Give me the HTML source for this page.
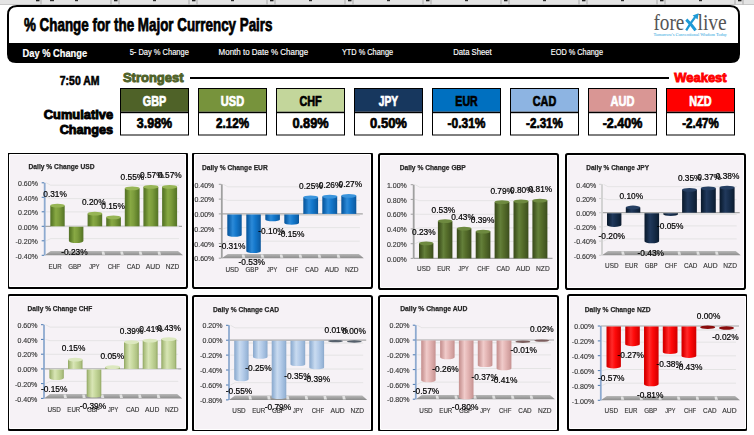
<!DOCTYPE html>
<html><head><meta charset="utf-8"><style>
html,body{margin:0;padding:0;background:#fff;width:754px;height:435px;overflow:hidden}
svg{display:block}
</style></head><body>
<svg width="754" height="435" viewBox="0 0 754 435">
<rect x="0" y="0" width="754" height="4" fill="#e4e4e4"/>
<rect x="0" y="4" width="754" height="1" fill="#c8c8c8"/>
<rect x="40.5" y="0" width="1" height="4.5" fill="#a8a8a8"/>
<rect x="110.5" y="0" width="1" height="4.5" fill="#a8a8a8"/>
<rect x="36" y="0" width="3.5" height="1.3" fill="#202020"/>
<rect x="75" y="0" width="3" height="1.2" fill="#303030"/>
<rect x="118.5" y="0" width="1" height="4.5" fill="#a8a8a8"/>
<rect x="188.5" y="0" width="1" height="4.5" fill="#a8a8a8"/>
<rect x="114" y="0" width="3.5" height="1.3" fill="#202020"/>
<rect x="153" y="0" width="3" height="1.2" fill="#303030"/>
<rect x="196.5" y="0" width="1" height="4.5" fill="#a8a8a8"/>
<rect x="266.5" y="0" width="1" height="4.5" fill="#a8a8a8"/>
<rect x="192" y="0" width="3.5" height="1.3" fill="#202020"/>
<rect x="231" y="0" width="3" height="1.2" fill="#303030"/>
<rect x="274.5" y="0" width="1" height="4.5" fill="#a8a8a8"/>
<rect x="344.5" y="0" width="1" height="4.5" fill="#a8a8a8"/>
<rect x="270" y="0" width="3.5" height="1.3" fill="#202020"/>
<rect x="309" y="0" width="3" height="1.2" fill="#303030"/>
<rect x="352.5" y="0" width="1" height="4.5" fill="#a8a8a8"/>
<rect x="422.5" y="0" width="1" height="4.5" fill="#a8a8a8"/>
<rect x="348" y="0" width="3.5" height="1.3" fill="#202020"/>
<rect x="387" y="0" width="3" height="1.2" fill="#303030"/>
<rect x="430.5" y="0" width="1" height="4.5" fill="#a8a8a8"/>
<rect x="500.5" y="0" width="1" height="4.5" fill="#a8a8a8"/>
<rect x="426" y="0" width="3.5" height="1.3" fill="#202020"/>
<rect x="465" y="0" width="3" height="1.2" fill="#303030"/>
<rect x="508.5" y="0" width="1" height="4.5" fill="#a8a8a8"/>
<rect x="578.5" y="0" width="1" height="4.5" fill="#a8a8a8"/>
<rect x="504" y="0" width="3.5" height="1.3" fill="#202020"/>
<rect x="543" y="0" width="3" height="1.2" fill="#303030"/>
<rect x="586.5" y="0" width="1" height="4.5" fill="#a8a8a8"/>
<rect x="656.5" y="0" width="1" height="4.5" fill="#a8a8a8"/>
<rect x="582" y="0" width="3.5" height="1.3" fill="#202020"/>
<rect x="621" y="0" width="3" height="1.2" fill="#303030"/>
<rect x="664.5" y="0" width="1" height="4.5" fill="#a8a8a8"/>
<rect x="734.5" y="0" width="1" height="4.5" fill="#a8a8a8"/>
<rect x="660" y="0" width="3.5" height="1.3" fill="#202020"/>
<rect x="699" y="0" width="3" height="1.2" fill="#303030"/>
<rect x="742.5" y="0" width="1" height="4.5" fill="#a8a8a8"/>
<rect x="812.5" y="0" width="1" height="4.5" fill="#a8a8a8"/>
<rect x="738" y="0" width="3.5" height="1.3" fill="#202020"/>
<rect x="777" y="0" width="3" height="1.2" fill="#303030"/>
<rect x="50" y="0" width="4" height="1.2" fill="#303030"/>
<path d="M8,44 L8,15 Q8,6 17,6 L730,6 Q739,6 739,15 L739,44 Z" fill="#fff" stroke="#000" stroke-width="2"/>
<path d="M7,43.5 L740,43.5 L740,54 Q740,63 731,63 L16,63 Q7,63 7,54 Z" fill="#000"/>
<text x="24" y="31.2" font-family='"Liberation Sans", sans-serif' font-size="18.4" font-weight="bold" fill="#000" text-anchor="start" textLength="248.5" lengthAdjust="spacingAndGlyphs" stroke="#000" stroke-width="0.75">% Change for the Major Currency Pairs</text>
<text x="22.6" y="56.7" font-family='"Liberation Sans", sans-serif' font-size="10.3" font-weight="bold" fill="#fff" text-anchor="start" textLength="64.5" lengthAdjust="spacingAndGlyphs" stroke="#fff" stroke-width="0.2">Day % Change</text>
<text x="129.7" y="54.8" font-family='"Liberation Sans", sans-serif' font-size="8.3" font-weight="normal" fill="#fff" text-anchor="start" textLength="59.2" lengthAdjust="spacingAndGlyphs" stroke="#fff" stroke-width="0.15">5- Day % Change</text>
<text x="218.6" y="54.8" font-family='"Liberation Sans", sans-serif' font-size="8.3" font-weight="normal" fill="#fff" text-anchor="start" textLength="89.6" lengthAdjust="spacingAndGlyphs" stroke="#fff" stroke-width="0.15">Month to Date % Change</text>
<text x="341.9" y="54.8" font-family='"Liberation Sans", sans-serif' font-size="8.3" font-weight="normal" fill="#fff" text-anchor="start" textLength="51.2" lengthAdjust="spacingAndGlyphs" stroke="#fff" stroke-width="0.15">YTD % Change</text>
<text x="453.2" y="54.8" font-family='"Liberation Sans", sans-serif' font-size="8.3" font-weight="normal" fill="#fff" text-anchor="start" textLength="38.4" lengthAdjust="spacingAndGlyphs" stroke="#fff" stroke-width="0.15">Data Sheet</text>
<text x="550.8" y="54.8" font-family='"Liberation Sans", sans-serif' font-size="8.3" font-weight="normal" fill="#fff" text-anchor="start" textLength="52.2" lengthAdjust="spacingAndGlyphs" stroke="#fff" stroke-width="0.15">EOD % Change</text>
<text x="653.4" y="30.4" font-family='"Liberation Serif", serif' font-size="23" font-weight="normal" fill="#555555" text-anchor="start" textLength="31" lengthAdjust="spacingAndGlyphs" >fore</text>
<text x="697.5" y="30.4" font-family='"Liberation Serif", serif' font-size="23" font-weight="normal" fill="#555555" text-anchor="start" textLength="29.3" lengthAdjust="spacingAndGlyphs" >live</text>
<path d="M686.3,19.6 Q691,24 695.6,30.4" stroke="#1e9ad6" stroke-width="3" fill="none"/>
<path d="M686.2,30.4 Q690.5,23 695.2,17" stroke="#1e9ad6" stroke-width="2.2" fill="none"/>
<path d="M692.6,15.6 L698.6,13.2 L697.6,19.4 Z" fill="#1e9ad6"/>
<text x="653.4" y="36.4" font-family='"Liberation Serif", serif' font-size="5" font-weight="normal" fill="#1f9fdc" text-anchor="start" textLength="73.4" lengthAdjust="spacingAndGlyphs" >Tomorrow's Conventional Wisdom Today</text>
<text x="59.8" y="84.6" font-family='"Liberation Sans", sans-serif' font-size="12.8" font-weight="bold" fill="#000" text-anchor="start" textLength="39.7" lengthAdjust="spacingAndGlyphs" stroke="#000" stroke-width="0.6">7:50 AM</text>
<text x="122.9" y="81.8" font-family='"Liberation Sans", sans-serif' font-size="13" font-weight="bold" fill="#4f6228" text-anchor="start" textLength="60.7" lengthAdjust="spacingAndGlyphs" stroke="#4f6228" stroke-width="0.9">Strongest</text>
<rect x="190" y="77" width="479" height="2" fill="#000"/>
<text x="674.3" y="82" font-family='"Liberation Sans", sans-serif' font-size="13" font-weight="bold" fill="#ff0000" text-anchor="start" textLength="52.3" lengthAdjust="spacingAndGlyphs" stroke="#ff0000" stroke-width="0.9">Weakest</text>
<text x="113.1" y="118.6" font-family='"Liberation Sans", sans-serif' font-size="12.4" font-weight="bold" fill="#000" text-anchor="end" textLength="69.3" lengthAdjust="spacingAndGlyphs" stroke="#000" stroke-width="0.9">Cumulative</text>
<text x="113.1" y="134.2" font-family='"Liberation Sans", sans-serif' font-size="12.4" font-weight="bold" fill="#000" text-anchor="end" textLength="53.4" lengthAdjust="spacingAndGlyphs" stroke="#000" stroke-width="0.9">Changes</text>
<rect x="120.5" y="88.5" width="68" height="46.5" fill="#fff" stroke="#000" stroke-width="1"/>
<rect x="121" y="89" width="67" height="22.7" fill="#4f6228"/>
<rect x="121" y="111.7" width="67" height="1.5" fill="#000"/>
<text x="154.5" y="105.8" font-family='"Liberation Sans", sans-serif' font-size="14.5" font-weight="bold" fill="#fff" text-anchor="middle" textLength="23.400000000000002" lengthAdjust="spacingAndGlyphs" stroke="#fff" stroke-width="0.7">GBP</text>
<text x="154.5" y="128.4" font-family='"Liberation Sans", sans-serif' font-size="14" font-weight="bold" fill="#000" text-anchor="middle" textLength="35.3" lengthAdjust="spacingAndGlyphs" stroke="#000" stroke-width="0.7">3.98%</text>
<rect x="198.5" y="88.5" width="68" height="46.5" fill="#fff" stroke="#000" stroke-width="1"/>
<rect x="199" y="89" width="67" height="22.7" fill="#77933c"/>
<rect x="199" y="111.7" width="67" height="1.5" fill="#000"/>
<text x="232.5" y="105.8" font-family='"Liberation Sans", sans-serif' font-size="14.5" font-weight="bold" fill="#fff" text-anchor="middle" textLength="23.3" lengthAdjust="spacingAndGlyphs" stroke="#fff" stroke-width="0.7">USD</text>
<text x="232.5" y="128.4" font-family='"Liberation Sans", sans-serif' font-size="14" font-weight="bold" fill="#000" text-anchor="middle" textLength="32.9" lengthAdjust="spacingAndGlyphs" stroke="#000" stroke-width="0.7">2.12%</text>
<rect x="276.5" y="88.5" width="68" height="46.5" fill="#fff" stroke="#000" stroke-width="1"/>
<rect x="277" y="89" width="67" height="22.7" fill="#c3d69b"/>
<rect x="277" y="111.7" width="67" height="1.5" fill="#000"/>
<text x="310.5" y="105.8" font-family='"Liberation Sans", sans-serif' font-size="14.5" font-weight="bold" fill="#000" text-anchor="middle" textLength="22.2" lengthAdjust="spacingAndGlyphs" stroke="#000" stroke-width="0.7">CHF</text>
<text x="310.5" y="128.4" font-family='"Liberation Sans", sans-serif' font-size="14" font-weight="bold" fill="#000" text-anchor="middle" textLength="36.199999999999996" lengthAdjust="spacingAndGlyphs" stroke="#000" stroke-width="0.7">0.89%</text>
<rect x="354.5" y="88.5" width="68" height="46.5" fill="#fff" stroke="#000" stroke-width="1"/>
<rect x="355" y="89" width="67" height="22.7" fill="#17375e"/>
<rect x="355" y="111.7" width="67" height="1.5" fill="#000"/>
<text x="388.5" y="105.8" font-family='"Liberation Sans", sans-serif' font-size="14.5" font-weight="bold" fill="#fff" text-anchor="middle" textLength="19.3" lengthAdjust="spacingAndGlyphs" stroke="#fff" stroke-width="0.7">JPY</text>
<text x="388.5" y="128.4" font-family='"Liberation Sans", sans-serif' font-size="14" font-weight="bold" fill="#000" text-anchor="middle" textLength="36.9" lengthAdjust="spacingAndGlyphs" stroke="#000" stroke-width="0.7">0.50%</text>
<rect x="432.5" y="88.5" width="68" height="46.5" fill="#fff" stroke="#000" stroke-width="1"/>
<rect x="433" y="89" width="67" height="22.7" fill="#0070c0"/>
<rect x="433" y="111.7" width="67" height="1.5" fill="#000"/>
<text x="466.5" y="105.8" font-family='"Liberation Sans", sans-serif' font-size="14.5" font-weight="bold" fill="#000" text-anchor="middle" textLength="22.3" lengthAdjust="spacingAndGlyphs" stroke="#000" stroke-width="0.7">EUR</text>
<text x="466.5" y="128.4" font-family='"Liberation Sans", sans-serif' font-size="14" font-weight="bold" fill="#000" text-anchor="middle" textLength="38.0" lengthAdjust="spacingAndGlyphs" stroke="#000" stroke-width="0.7">-0.31%</text>
<rect x="510.5" y="88.5" width="68" height="46.5" fill="#fff" stroke="#000" stroke-width="1"/>
<rect x="511" y="89" width="67" height="22.7" fill="#8db4e2"/>
<rect x="511" y="111.7" width="67" height="1.5" fill="#000"/>
<text x="544.5" y="105.8" font-family='"Liberation Sans", sans-serif' font-size="14.5" font-weight="bold" fill="#000" text-anchor="middle" textLength="23.400000000000002" lengthAdjust="spacingAndGlyphs" stroke="#000" stroke-width="0.7">CAD</text>
<text x="544.5" y="128.4" font-family='"Liberation Sans", sans-serif' font-size="14" font-weight="bold" fill="#000" text-anchor="middle" textLength="36.9" lengthAdjust="spacingAndGlyphs" stroke="#000" stroke-width="0.7">-2.31%</text>
<rect x="588.5" y="88.5" width="68" height="46.5" fill="#fff" stroke="#000" stroke-width="1"/>
<rect x="589" y="89" width="67" height="22.7" fill="#d99694"/>
<rect x="589" y="111.7" width="67" height="1.5" fill="#000"/>
<text x="622.5" y="105.8" font-family='"Liberation Sans", sans-serif' font-size="14.5" font-weight="bold" fill="#fff" text-anchor="middle" textLength="23.900000000000002" lengthAdjust="spacingAndGlyphs" stroke="#fff" stroke-width="0.7">AUD</text>
<text x="622.5" y="128.4" font-family='"Liberation Sans", sans-serif' font-size="14" font-weight="bold" fill="#000" text-anchor="middle" textLength="39.599999999999994" lengthAdjust="spacingAndGlyphs" stroke="#000" stroke-width="0.7">-2.40%</text>
<rect x="666.5" y="88.5" width="68" height="46.5" fill="#fff" stroke="#000" stroke-width="1"/>
<rect x="667" y="89" width="67" height="22.7" fill="#ff0000"/>
<rect x="667" y="111.7" width="67" height="1.5" fill="#000"/>
<text x="700.5" y="105.8" font-family='"Liberation Sans", sans-serif' font-size="14.5" font-weight="bold" fill="#fff" text-anchor="middle" textLength="22.3" lengthAdjust="spacingAndGlyphs" stroke="#fff" stroke-width="0.7">NZD</text>
<text x="700.5" y="128.4" font-family='"Liberation Sans", sans-serif' font-size="14" font-weight="bold" fill="#000" text-anchor="middle" textLength="36.599999999999994" lengthAdjust="spacingAndGlyphs" stroke="#000" stroke-width="0.7">-2.47%</text>
<defs><linearGradient id="g_green" x1="0" y1="0" x2="1" y2="0"><stop offset="0" stop-color="#56722a"/><stop offset="0.12" stop-color="#5f7f2a"/><stop offset="0.38" stop-color="#88a944"/><stop offset="0.6" stop-color="#7c9c3c"/><stop offset="0.88" stop-color="#5f7f2a"/><stop offset="1" stop-color="#56722a"/></linearGradient><linearGradient id="g_blue" x1="0" y1="0" x2="1" y2="0"><stop offset="0" stop-color="#0b5598"/><stop offset="0.12" stop-color="#0d62ad"/><stop offset="0.38" stop-color="#2c8ad8"/><stop offset="0.6" stop-color="#1478cc"/><stop offset="0.88" stop-color="#0d62ad"/><stop offset="1" stop-color="#0b5598"/></linearGradient><linearGradient id="g_dkgreen" x1="0" y1="0" x2="1" y2="0"><stop offset="0" stop-color="#3a4b1b"/><stop offset="0.12" stop-color="#445822"/><stop offset="0.38" stop-color="#64803a"/><stop offset="0.6" stop-color="#566e2b"/><stop offset="0.88" stop-color="#445822"/><stop offset="1" stop-color="#3a4b1b"/></linearGradient><linearGradient id="g_navy" x1="0" y1="0" x2="1" y2="0"><stop offset="0" stop-color="#0b192c"/><stop offset="0.12" stop-color="#0f2239"/><stop offset="0.38" stop-color="#21395c"/><stop offset="0.6" stop-color="#182f4e"/><stop offset="0.88" stop-color="#0f2239"/><stop offset="1" stop-color="#0b192c"/></linearGradient><linearGradient id="g_ltgreen" x1="0" y1="0" x2="1" y2="0"><stop offset="0" stop-color="#8fa560"/><stop offset="0.12" stop-color="#aec182"/><stop offset="0.38" stop-color="#d8e5b5"/><stop offset="0.6" stop-color="#c6d89c"/><stop offset="0.88" stop-color="#aec182"/><stop offset="1" stop-color="#8fa560"/></linearGradient><linearGradient id="g_ltblue" x1="0" y1="0" x2="1" y2="0"><stop offset="0" stop-color="#8ba8ca"/><stop offset="0.12" stop-color="#9ab7d9"/><stop offset="0.38" stop-color="#c9dbf0"/><stop offset="0.6" stop-color="#b6cdea"/><stop offset="0.88" stop-color="#9ab7d9"/><stop offset="1" stop-color="#8ba8ca"/></linearGradient><linearGradient id="g_pink" x1="0" y1="0" x2="1" y2="0"><stop offset="0" stop-color="#c48f8e"/><stop offset="0.12" stop-color="#d09e9d"/><stop offset="0.38" stop-color="#f0cbca"/><stop offset="0.6" stop-color="#e5b7b6"/><stop offset="0.88" stop-color="#d09e9d"/><stop offset="1" stop-color="#c48f8e"/></linearGradient><linearGradient id="g_red" x1="0" y1="0" x2="1" y2="0"><stop offset="0" stop-color="#d00000"/><stop offset="0.12" stop-color="#e00000"/><stop offset="0.38" stop-color="#ff2a2a"/><stop offset="0.6" stop-color="#ff0a0a"/><stop offset="0.88" stop-color="#e00000"/><stop offset="1" stop-color="#d00000"/></linearGradient><linearGradient id="g_floor" x1="0" y1="0" x2="0" y2="1"><stop offset="0" stop-color="#b8b8b8"/><stop offset="1" stop-color="#8c8c8c"/></linearGradient><filter id="noop" x="0" y="0" width="1" height="1"><feOffset dx="0" dy="0"/></filter></defs>
<g filter="url(#noop)">
<rect x="8" y="153" width="179" height="135" rx="1.8" fill="#f6f2f6"/>
<rect x="9.5" y="154.5" width="176" height="132" fill="none" stroke="#ffffff" stroke-width="1"/>
<clipPath id="clip0"><rect x="9" y="154" width="177" height="133"/></clipPath>
<g clip-path="url(#clip0)">
<text x="28.50" y="169.20" font-family='"Liberation Sans", sans-serif' font-size="7.6" font-weight="bold" fill="#262626" text-anchor="start" textLength="66.0" lengthAdjust="spacingAndGlyphs" stroke="#262626" stroke-width="0.25">Daily % Change USD</text>
<path d="M46.2,182.8 L50.7,185.2 L179.0,185.2" fill="none" stroke="#e0e0e0" stroke-width="0.8"/>
<path d="M46.2,197.3 L50.7,198.6 L179.0,198.6" fill="none" stroke="#e0e0e0" stroke-width="0.8"/>
<path d="M46.2,211.8 L50.7,211.9 L179.0,211.9" fill="none" stroke="#e0e0e0" stroke-width="0.8"/>
<path d="M46.2,240.8 L50.7,238.6 L179.0,238.6" fill="none" stroke="#e0e0e0" stroke-width="0.8"/>
<path d="M44.7,255.3 L183.0,255.3 L178.0,251.1 L50.7,251.1 Z" fill="url(#g_floor)"/>
<path d="M64.9,254.8 L67.9,254.8 L66.9,251.6 L64.4,251.6 Z" fill="#e8e8e8" opacity="0.9"/>
<path d="M83.6,254.8 L86.6,254.8 L85.6,251.6 L83.1,251.6 Z" fill="#e8e8e8" opacity="0.9"/>
<path d="M102.2,254.8 L105.2,254.8 L104.2,251.6 L101.7,251.6 Z" fill="#e8e8e8" opacity="0.9"/>
<path d="M120.8,254.8 L123.8,254.8 L122.8,251.6 L120.3,251.6 Z" fill="#e8e8e8" opacity="0.9"/>
<path d="M139.4,254.8 L142.4,254.8 L141.4,251.6 L138.9,251.6 Z" fill="#e8e8e8" opacity="0.9"/>
<path d="M158.1,254.8 L161.1,254.8 L160.1,251.6 L157.6,251.6 Z" fill="#e8e8e8" opacity="0.9"/>
<path d="M44.7,226.3 L182.0,226.3" stroke="#a6a6a6" stroke-width="1.2"/>
<path d="M50.7,226.7 L179.0,226.7" stroke="#e0e0e0" stroke-width="1"/>
<path d="M44.7,182.8 L44.7,255.3" stroke="#8eaad0" stroke-width="1.8"/>
<path d="M41.7,182.8 L44.2,182.8" stroke="#4a78b0" stroke-width="1"/>
<text x="37.90" y="186.00" font-family='"Liberation Sans", sans-serif' font-size="7.3" font-weight="normal" fill="#383838" text-anchor="end" textLength="19.9" lengthAdjust="spacingAndGlyphs" stroke="#383838" stroke-width="0.15">0.60%</text>
<path d="M41.7,197.3 L44.2,197.3" stroke="#4a78b0" stroke-width="1"/>
<text x="37.90" y="200.50" font-family='"Liberation Sans", sans-serif' font-size="7.3" font-weight="normal" fill="#383838" text-anchor="end" textLength="19.9" lengthAdjust="spacingAndGlyphs" stroke="#383838" stroke-width="0.15">0.40%</text>
<path d="M41.7,211.8 L44.2,211.8" stroke="#4a78b0" stroke-width="1"/>
<text x="37.90" y="215.00" font-family='"Liberation Sans", sans-serif' font-size="7.3" font-weight="normal" fill="#383838" text-anchor="end" textLength="19.9" lengthAdjust="spacingAndGlyphs" stroke="#383838" stroke-width="0.15">0.20%</text>
<path d="M41.7,226.3 L44.2,226.3" stroke="#4a78b0" stroke-width="1"/>
<text x="37.90" y="229.50" font-family='"Liberation Sans", sans-serif' font-size="7.3" font-weight="normal" fill="#383838" text-anchor="end" textLength="19.9" lengthAdjust="spacingAndGlyphs" stroke="#383838" stroke-width="0.15">0.00%</text>
<path d="M41.7,240.8 L44.2,240.8" stroke="#4a78b0" stroke-width="1"/>
<text x="37.90" y="244.00" font-family='"Liberation Sans", sans-serif' font-size="7.3" font-weight="normal" fill="#383838" text-anchor="end" textLength="22.4" lengthAdjust="spacingAndGlyphs" stroke="#383838" stroke-width="0.15">-0.20%</text>
<path d="M41.7,255.3 L44.2,255.3" stroke="#4a78b0" stroke-width="1"/>
<text x="37.90" y="258.50" font-family='"Liberation Sans", sans-serif' font-size="7.3" font-weight="normal" fill="#383838" text-anchor="end" textLength="22.4" lengthAdjust="spacingAndGlyphs" stroke="#383838" stroke-width="0.15">-0.40%</text>
<path d="M50.3,205.7 L50.3,226.3 L64.7,226.3 L64.7,205.7 Z" fill="url(#g_green)"/>
<ellipse cx="57.5" cy="205.7" rx="7.2" ry="1.9" fill="#97b555"/>
<text x="55.10" y="268.80" font-family='"Liberation Sans", sans-serif' font-size="7.3" font-weight="normal" fill="#383838" text-anchor="middle" textLength="13.0" lengthAdjust="spacingAndGlyphs" stroke="#383838" stroke-width="0.15">EUR</text>
<path d="M68.9,226.8 L68.9,241.1 A7.2,1.9 0 0 0 83.4,241.1 L83.4,226.8 Z" fill="url(#g_green)"/>
<text x="74.68" y="268.80" font-family='"Liberation Sans", sans-serif' font-size="7.3" font-weight="normal" fill="#383838" text-anchor="middle" textLength="13.0" lengthAdjust="spacingAndGlyphs" stroke="#383838" stroke-width="0.15">GBP</text>
<path d="M87.6,213.7 L87.6,226.3 L102.2,226.3 L102.2,213.7 Z" fill="url(#g_green)"/>
<ellipse cx="94.9" cy="213.7" rx="7.3" ry="1.9" fill="#97b555"/>
<text x="94.26" y="268.80" font-family='"Liberation Sans", sans-serif' font-size="7.3" font-weight="normal" fill="#383838" text-anchor="middle" textLength="10.2" lengthAdjust="spacingAndGlyphs" stroke="#383838" stroke-width="0.15">JPY</text>
<path d="M106.2,217.3 L106.2,226.3 L120.9,226.3 L120.9,217.3 Z" fill="url(#g_green)"/>
<ellipse cx="113.5" cy="217.3" rx="7.4" ry="1.9" fill="#97b555"/>
<text x="113.84" y="268.80" font-family='"Liberation Sans", sans-serif' font-size="7.3" font-weight="normal" fill="#383838" text-anchor="middle" textLength="12.4" lengthAdjust="spacingAndGlyphs" stroke="#383838" stroke-width="0.15">CHF</text>
<path d="M124.8,188.3 L124.8,226.3 L139.6,226.3 L139.6,188.3 Z" fill="url(#g_green)"/>
<ellipse cx="132.2" cy="188.3" rx="7.4" ry="1.9" fill="#97b555"/>
<text x="133.42" y="268.80" font-family='"Liberation Sans", sans-serif' font-size="7.3" font-weight="normal" fill="#383838" text-anchor="middle" textLength="13.4" lengthAdjust="spacingAndGlyphs" stroke="#383838" stroke-width="0.15">CAD</text>
<path d="M143.4,186.9 L143.4,226.3 L158.3,226.3 L158.3,186.9 Z" fill="url(#g_green)"/>
<ellipse cx="150.9" cy="186.9" rx="7.5" ry="1.9" fill="#97b555"/>
<text x="153.00" y="268.80" font-family='"Liberation Sans", sans-serif' font-size="7.3" font-weight="normal" fill="#383838" text-anchor="middle" textLength="14.3" lengthAdjust="spacingAndGlyphs" stroke="#383838" stroke-width="0.15">AUD</text>
<path d="M162.1,186.9 L162.1,226.3 L177.1,226.3 L177.1,186.9 Z" fill="url(#g_green)"/>
<ellipse cx="169.6" cy="186.9" rx="7.5" ry="1.9" fill="#97b555"/>
<text x="172.58" y="268.80" font-family='"Liberation Sans", sans-serif' font-size="7.3" font-weight="normal" fill="#383838" text-anchor="middle" textLength="13.6" lengthAdjust="spacingAndGlyphs" stroke="#383838" stroke-width="0.15">NZD</text>
<text x="55.10" y="197.23" font-family='"Liberation Sans", sans-serif' font-size="9.4" font-weight="normal" fill="#000" text-anchor="middle" textLength="23.6" lengthAdjust="spacingAndGlyphs" stroke="#000" stroke-width="0.22">0.31%</text>
<text x="74.43" y="255.28" font-family='"Liberation Sans", sans-serif' font-size="9.4" font-weight="normal" fill="#000" text-anchor="middle" textLength="26.5" lengthAdjust="spacingAndGlyphs" stroke="#000" stroke-width="0.22">-0.23%</text>
<text x="93.76" y="205.20" font-family='"Liberation Sans", sans-serif' font-size="9.4" font-weight="normal" fill="#000" text-anchor="middle" textLength="23.6" lengthAdjust="spacingAndGlyphs" stroke="#000" stroke-width="0.22">0.20%</text>
<text x="113.09" y="208.83" font-family='"Liberation Sans", sans-serif' font-size="9.4" font-weight="normal" fill="#000" text-anchor="middle" textLength="23.6" lengthAdjust="spacingAndGlyphs" stroke="#000" stroke-width="0.22">0.15%</text>
<text x="132.42" y="179.83" font-family='"Liberation Sans", sans-serif' font-size="9.4" font-weight="normal" fill="#000" text-anchor="middle" textLength="23.6" lengthAdjust="spacingAndGlyphs" stroke="#000" stroke-width="0.22">0.55%</text>
<text x="151.75" y="178.38" font-family='"Liberation Sans", sans-serif' font-size="9.4" font-weight="normal" fill="#000" text-anchor="middle" textLength="23.6" lengthAdjust="spacingAndGlyphs" stroke="#000" stroke-width="0.22">0.57%</text>
<text x="169.88" y="178.38" font-family='"Liberation Sans", sans-serif' font-size="9.4" font-weight="normal" fill="#000" text-anchor="middle" textLength="23.6" lengthAdjust="spacingAndGlyphs" stroke="#000" stroke-width="0.22">0.57%</text>
</g>
<rect x="8" y="153" width="179" height="135" rx="1.8" fill="none" stroke="#000" stroke-width="2"/>
<rect x="193" y="153" width="179" height="135" rx="1.8" fill="#f6f2f6"/>
<rect x="194.5" y="154.5" width="176" height="132" fill="none" stroke="#ffffff" stroke-width="1"/>
<clipPath id="clip1"><rect x="194" y="154" width="177" height="133"/></clipPath>
<g clip-path="url(#clip1)">
<text x="202.00" y="170.00" font-family='"Liberation Sans", sans-serif' font-size="7.6" font-weight="bold" fill="#262626" text-anchor="start" textLength="65.7" lengthAdjust="spacingAndGlyphs" stroke="#262626" stroke-width="0.25">Daily % Change EUR</text>
<path d="M223.3,184.3 L227.8,186.8 L359.8,186.8" fill="none" stroke="#e0e0e0" stroke-width="0.8"/>
<path d="M223.3,199.1 L227.8,200.4 L359.8,200.4" fill="none" stroke="#e0e0e0" stroke-width="0.8"/>
<path d="M223.3,228.7 L227.8,227.6 L359.8,227.6" fill="none" stroke="#e0e0e0" stroke-width="0.8"/>
<path d="M223.3,243.5 L227.8,241.2 L359.8,241.2" fill="none" stroke="#e0e0e0" stroke-width="0.8"/>
<path d="M221.8,258.2 L363.8,258.2 L358.8,253.9 L227.8,253.9 Z" fill="url(#g_floor)"/>
<path d="M242.3,257.7 L245.3,257.7 L244.3,254.4 L241.8,254.4 Z" fill="#e8e8e8" opacity="0.9"/>
<path d="M261.3,257.7 L264.3,257.7 L263.3,254.4 L260.8,254.4 Z" fill="#e8e8e8" opacity="0.9"/>
<path d="M280.3,257.7 L283.3,257.7 L282.3,254.4 L279.8,254.4 Z" fill="#e8e8e8" opacity="0.9"/>
<path d="M299.3,257.7 L302.3,257.7 L301.3,254.4 L298.8,254.4 Z" fill="#e8e8e8" opacity="0.9"/>
<path d="M318.3,257.7 L321.3,257.7 L320.3,254.4 L317.8,254.4 Z" fill="#e8e8e8" opacity="0.9"/>
<path d="M337.3,257.7 L340.3,257.7 L339.3,254.4 L336.8,254.4 Z" fill="#e8e8e8" opacity="0.9"/>
<path d="M221.8,213.9 L362.8,213.9" stroke="#a6a6a6" stroke-width="1.2"/>
<path d="M227.8,215.5 L359.8,215.5" stroke="#e0e0e0" stroke-width="1"/>
<path d="M221.8,184.3 L221.8,258.2" stroke="#a0a0a0" stroke-width="1.8"/>
<path d="M218.8,184.3 L221.3,184.3" stroke="#a0a0a0" stroke-width="1"/>
<text x="214.30" y="187.54" font-family='"Liberation Sans", sans-serif' font-size="7.3" font-weight="normal" fill="#383838" text-anchor="end" textLength="19.9" lengthAdjust="spacingAndGlyphs" stroke="#383838" stroke-width="0.15">0.40%</text>
<path d="M218.8,199.1 L221.3,199.1" stroke="#a0a0a0" stroke-width="1"/>
<text x="214.30" y="202.32" font-family='"Liberation Sans", sans-serif' font-size="7.3" font-weight="normal" fill="#383838" text-anchor="end" textLength="19.9" lengthAdjust="spacingAndGlyphs" stroke="#383838" stroke-width="0.15">0.20%</text>
<path d="M218.8,213.9 L221.3,213.9" stroke="#a0a0a0" stroke-width="1"/>
<text x="214.30" y="217.10" font-family='"Liberation Sans", sans-serif' font-size="7.3" font-weight="normal" fill="#383838" text-anchor="end" textLength="19.9" lengthAdjust="spacingAndGlyphs" stroke="#383838" stroke-width="0.15">0.00%</text>
<path d="M218.8,228.7 L221.3,228.7" stroke="#a0a0a0" stroke-width="1"/>
<text x="214.30" y="231.88" font-family='"Liberation Sans", sans-serif' font-size="7.3" font-weight="normal" fill="#383838" text-anchor="end" textLength="22.4" lengthAdjust="spacingAndGlyphs" stroke="#383838" stroke-width="0.15">-0.20%</text>
<path d="M218.8,243.5 L221.3,243.5" stroke="#a0a0a0" stroke-width="1"/>
<text x="214.30" y="246.66" font-family='"Liberation Sans", sans-serif' font-size="7.3" font-weight="normal" fill="#383838" text-anchor="end" textLength="22.4" lengthAdjust="spacingAndGlyphs" stroke="#383838" stroke-width="0.15">-0.40%</text>
<path d="M218.8,258.2 L221.3,258.2" stroke="#a0a0a0" stroke-width="1"/>
<text x="214.30" y="261.44" font-family='"Liberation Sans", sans-serif' font-size="7.3" font-weight="normal" fill="#383838" text-anchor="end" textLength="22.4" lengthAdjust="spacingAndGlyphs" stroke="#383838" stroke-width="0.15">-0.60%</text>
<path d="M227.3,214.4 L227.3,234.9 A7.2,1.9 0 0 0 241.7,234.9 L241.7,214.4 Z" fill="url(#g_blue)"/>
<text x="232.10" y="271.50" font-family='"Liberation Sans", sans-serif' font-size="7.3" font-weight="normal" fill="#383838" text-anchor="middle" textLength="13.4" lengthAdjust="spacingAndGlyphs" stroke="#383838" stroke-width="0.15">USD</text>
<path d="M246.3,214.4 L246.3,251.2 A7.2,1.9 0 0 0 260.8,251.2 L260.8,214.4 Z" fill="url(#g_blue)"/>
<text x="252.05" y="271.50" font-family='"Liberation Sans", sans-serif' font-size="7.3" font-weight="normal" fill="#383838" text-anchor="middle" textLength="13.0" lengthAdjust="spacingAndGlyphs" stroke="#383838" stroke-width="0.15">GBP</text>
<path d="M265.3,214.4 L265.3,219.4 A7.3,1.9 0 0 0 279.9,219.4 L279.9,214.4 Z" fill="url(#g_blue)"/>
<text x="272.00" y="271.50" font-family='"Liberation Sans", sans-serif' font-size="7.3" font-weight="normal" fill="#383838" text-anchor="middle" textLength="10.2" lengthAdjust="spacingAndGlyphs" stroke="#383838" stroke-width="0.15">JPY</text>
<path d="M284.3,214.4 L284.3,223.1 A7.4,1.9 0 0 0 299.0,223.1 L299.0,214.4 Z" fill="url(#g_blue)"/>
<text x="291.95" y="271.50" font-family='"Liberation Sans", sans-serif' font-size="7.3" font-weight="normal" fill="#383838" text-anchor="middle" textLength="12.4" lengthAdjust="spacingAndGlyphs" stroke="#383838" stroke-width="0.15">CHF</text>
<path d="M303.3,197.3 L303.3,213.9 L318.1,213.9 L318.1,197.3 Z" fill="url(#g_blue)"/>
<ellipse cx="310.7" cy="197.3" rx="7.4" ry="1.9" fill="#3a94dc"/>
<text x="311.90" y="271.50" font-family='"Liberation Sans", sans-serif' font-size="7.3" font-weight="normal" fill="#383838" text-anchor="middle" textLength="13.4" lengthAdjust="spacingAndGlyphs" stroke="#383838" stroke-width="0.15">CAD</text>
<path d="M322.3,196.6 L322.3,213.9 L337.2,213.9 L337.2,196.6 Z" fill="url(#g_blue)"/>
<ellipse cx="329.8" cy="196.6" rx="7.5" ry="1.9" fill="#3a94dc"/>
<text x="331.85" y="271.50" font-family='"Liberation Sans", sans-serif' font-size="7.3" font-weight="normal" fill="#383838" text-anchor="middle" textLength="14.3" lengthAdjust="spacingAndGlyphs" stroke="#383838" stroke-width="0.15">AUD</text>
<path d="M341.3,195.8 L341.3,213.9 L356.3,213.9 L356.3,195.8 Z" fill="url(#g_blue)"/>
<ellipse cx="348.8" cy="195.8" rx="7.5" ry="1.9" fill="#3a94dc"/>
<text x="351.80" y="271.50" font-family='"Liberation Sans", sans-serif' font-size="7.3" font-weight="normal" fill="#383838" text-anchor="middle" textLength="13.6" lengthAdjust="spacingAndGlyphs" stroke="#383838" stroke-width="0.15">NZD</text>
<text x="232.10" y="249.11" font-family='"Liberation Sans", sans-serif' font-size="9.4" font-weight="normal" fill="#000" text-anchor="middle" textLength="26.5" lengthAdjust="spacingAndGlyphs" stroke="#000" stroke-width="0.22">-0.31%</text>
<text x="251.80" y="265.37" font-family='"Liberation Sans", sans-serif' font-size="9.4" font-weight="normal" fill="#000" text-anchor="middle" textLength="26.5" lengthAdjust="spacingAndGlyphs" stroke="#000" stroke-width="0.22">-0.53%</text>
<text x="271.50" y="233.59" font-family='"Liberation Sans", sans-serif' font-size="9.4" font-weight="normal" fill="#000" text-anchor="middle" textLength="26.5" lengthAdjust="spacingAndGlyphs" stroke="#000" stroke-width="0.22">-0.10%</text>
<text x="291.20" y="237.29" font-family='"Liberation Sans", sans-serif' font-size="9.4" font-weight="normal" fill="#000" text-anchor="middle" textLength="26.5" lengthAdjust="spacingAndGlyphs" stroke="#000" stroke-width="0.22">-0.15%</text>
<text x="310.90" y="188.83" font-family='"Liberation Sans", sans-serif' font-size="9.4" font-weight="normal" fill="#000" text-anchor="middle" textLength="23.6" lengthAdjust="spacingAndGlyphs" stroke="#000" stroke-width="0.22">0.25%</text>
<text x="330.60" y="188.09" font-family='"Liberation Sans", sans-serif' font-size="9.4" font-weight="normal" fill="#000" text-anchor="middle" textLength="23.6" lengthAdjust="spacingAndGlyphs" stroke="#000" stroke-width="0.22">0.26%</text>
<text x="350.30" y="187.35" font-family='"Liberation Sans", sans-serif' font-size="9.4" font-weight="normal" fill="#000" text-anchor="middle" textLength="23.6" lengthAdjust="spacingAndGlyphs" stroke="#000" stroke-width="0.22">0.27%</text>
</g>
<rect x="193" y="153" width="179" height="135" rx="1.8" fill="none" stroke="#000" stroke-width="2"/>
<rect x="379" y="154" width="179" height="135" rx="1.8" fill="#f6f2f6"/>
<rect x="380.5" y="155.5" width="176" height="132" fill="none" stroke="#ffffff" stroke-width="1"/>
<clipPath id="clip2"><rect x="380" y="155" width="177" height="133"/></clipPath>
<g clip-path="url(#clip2)">
<text x="399.70" y="170.00" font-family='"Liberation Sans", sans-serif' font-size="7.6" font-weight="bold" fill="#262626" text-anchor="start" textLength="66.1" lengthAdjust="spacingAndGlyphs" stroke="#262626" stroke-width="0.25">Daily % Change GBP</text>
<path d="M415.2,184.7 L419.7,187.2 L549.5,187.2" fill="none" stroke="#e0e0e0" stroke-width="0.8"/>
<path d="M415.2,199.4 L419.7,200.7 L549.5,200.7" fill="none" stroke="#e0e0e0" stroke-width="0.8"/>
<path d="M415.2,214.2 L419.7,214.3 L549.5,214.3" fill="none" stroke="#e0e0e0" stroke-width="0.8"/>
<path d="M415.2,228.9 L419.7,227.9 L549.5,227.9" fill="none" stroke="#e0e0e0" stroke-width="0.8"/>
<path d="M415.2,243.7 L419.7,241.4 L549.5,241.4" fill="none" stroke="#e0e0e0" stroke-width="0.8"/>
<path d="M413.7,258.4 L552.5,258.4" stroke="#a6a6a6" stroke-width="1.2"/>
<path d="M413.7,184.7 L413.7,258.4" stroke="#a0a0a0" stroke-width="1.8"/>
<path d="M410.7,184.7 L413.2,184.7" stroke="#a0a0a0" stroke-width="1"/>
<text x="406.80" y="187.90" font-family='"Liberation Sans", sans-serif' font-size="7.3" font-weight="normal" fill="#383838" text-anchor="end" textLength="19.9" lengthAdjust="spacingAndGlyphs" stroke="#383838" stroke-width="0.15">1.00%</text>
<path d="M410.7,199.4 L413.2,199.4" stroke="#a0a0a0" stroke-width="1"/>
<text x="406.80" y="202.64" font-family='"Liberation Sans", sans-serif' font-size="7.3" font-weight="normal" fill="#383838" text-anchor="end" textLength="19.9" lengthAdjust="spacingAndGlyphs" stroke="#383838" stroke-width="0.15">0.80%</text>
<path d="M410.7,214.2 L413.2,214.2" stroke="#a0a0a0" stroke-width="1"/>
<text x="406.80" y="217.38" font-family='"Liberation Sans", sans-serif' font-size="7.3" font-weight="normal" fill="#383838" text-anchor="end" textLength="19.9" lengthAdjust="spacingAndGlyphs" stroke="#383838" stroke-width="0.15">0.60%</text>
<path d="M410.7,228.9 L413.2,228.9" stroke="#a0a0a0" stroke-width="1"/>
<text x="406.80" y="232.12" font-family='"Liberation Sans", sans-serif' font-size="7.3" font-weight="normal" fill="#383838" text-anchor="end" textLength="19.9" lengthAdjust="spacingAndGlyphs" stroke="#383838" stroke-width="0.15">0.40%</text>
<path d="M410.7,243.7 L413.2,243.7" stroke="#a0a0a0" stroke-width="1"/>
<text x="406.80" y="246.86" font-family='"Liberation Sans", sans-serif' font-size="7.3" font-weight="normal" fill="#383838" text-anchor="end" textLength="19.9" lengthAdjust="spacingAndGlyphs" stroke="#383838" stroke-width="0.15">0.20%</text>
<path d="M410.7,258.4 L413.2,258.4" stroke="#a0a0a0" stroke-width="1"/>
<text x="406.80" y="261.60" font-family='"Liberation Sans", sans-serif' font-size="7.3" font-weight="normal" fill="#383838" text-anchor="end" textLength="19.9" lengthAdjust="spacingAndGlyphs" stroke="#383838" stroke-width="0.15">0.00%</text>
<path d="M419.0,243.3 L419.0,258.4 L433.4,258.4 L433.4,243.3 Z" fill="url(#g_dkgreen)"/>
<ellipse cx="426.2" cy="243.3" rx="7.2" ry="1.9" fill="#6e8a40"/>
<text x="423.80" y="270.90" font-family='"Liberation Sans", sans-serif' font-size="7.3" font-weight="normal" fill="#383838" text-anchor="middle" textLength="13.4" lengthAdjust="spacingAndGlyphs" stroke="#383838" stroke-width="0.15">USD</text>
<path d="M437.9,221.2 L437.9,258.4 L452.4,258.4 L452.4,221.2 Z" fill="url(#g_dkgreen)"/>
<ellipse cx="445.1" cy="221.2" rx="7.2" ry="1.9" fill="#6e8a40"/>
<text x="443.65" y="270.90" font-family='"Liberation Sans", sans-serif' font-size="7.3" font-weight="normal" fill="#383838" text-anchor="middle" textLength="13.0" lengthAdjust="spacingAndGlyphs" stroke="#383838" stroke-width="0.15">EUR</text>
<path d="M456.8,228.6 L456.8,258.4 L471.4,258.4 L471.4,228.6 Z" fill="url(#g_dkgreen)"/>
<ellipse cx="464.1" cy="228.6" rx="7.3" ry="1.9" fill="#6e8a40"/>
<text x="463.50" y="270.90" font-family='"Liberation Sans", sans-serif' font-size="7.3" font-weight="normal" fill="#383838" text-anchor="middle" textLength="10.2" lengthAdjust="spacingAndGlyphs" stroke="#383838" stroke-width="0.15">JPY</text>
<path d="M475.7,231.6 L475.7,258.4 L490.4,258.4 L490.4,231.6 Z" fill="url(#g_dkgreen)"/>
<ellipse cx="483.1" cy="231.6" rx="7.4" ry="1.9" fill="#6e8a40"/>
<text x="483.35" y="270.90" font-family='"Liberation Sans", sans-serif' font-size="7.3" font-weight="normal" fill="#383838" text-anchor="middle" textLength="12.4" lengthAdjust="spacingAndGlyphs" stroke="#383838" stroke-width="0.15">CHF</text>
<path d="M494.6,202.1 L494.6,258.4 L509.4,258.4 L509.4,202.1 Z" fill="url(#g_dkgreen)"/>
<ellipse cx="502.0" cy="202.1" rx="7.4" ry="1.9" fill="#6e8a40"/>
<text x="503.20" y="270.90" font-family='"Liberation Sans", sans-serif' font-size="7.3" font-weight="normal" fill="#383838" text-anchor="middle" textLength="13.4" lengthAdjust="spacingAndGlyphs" stroke="#383838" stroke-width="0.15">CAD</text>
<path d="M513.5,201.3 L513.5,258.4 L528.4,258.4 L528.4,201.3 Z" fill="url(#g_dkgreen)"/>
<ellipse cx="521.0" cy="201.3" rx="7.5" ry="1.9" fill="#6e8a40"/>
<text x="523.05" y="270.90" font-family='"Liberation Sans", sans-serif' font-size="7.3" font-weight="normal" fill="#383838" text-anchor="middle" textLength="14.3" lengthAdjust="spacingAndGlyphs" stroke="#383838" stroke-width="0.15">AUD</text>
<path d="M532.4,200.6 L532.4,258.4 L547.4,258.4 L547.4,200.6 Z" fill="url(#g_dkgreen)"/>
<ellipse cx="539.9" cy="200.6" rx="7.5" ry="1.9" fill="#6e8a40"/>
<text x="542.90" y="270.90" font-family='"Liberation Sans", sans-serif' font-size="7.3" font-weight="normal" fill="#383838" text-anchor="middle" textLength="13.6" lengthAdjust="spacingAndGlyphs" stroke="#383838" stroke-width="0.15">NZD</text>
<text x="423.80" y="234.85" font-family='"Liberation Sans", sans-serif' font-size="9.4" font-weight="normal" fill="#000" text-anchor="middle" textLength="23.6" lengthAdjust="spacingAndGlyphs" stroke="#000" stroke-width="0.22">0.23%</text>
<text x="443.40" y="212.74" font-family='"Liberation Sans", sans-serif' font-size="9.4" font-weight="normal" fill="#000" text-anchor="middle" textLength="23.6" lengthAdjust="spacingAndGlyphs" stroke="#000" stroke-width="0.22">0.53%</text>
<text x="463.00" y="220.11" font-family='"Liberation Sans", sans-serif' font-size="9.4" font-weight="normal" fill="#000" text-anchor="middle" textLength="23.6" lengthAdjust="spacingAndGlyphs" stroke="#000" stroke-width="0.22">0.43%</text>
<text x="482.60" y="223.06" font-family='"Liberation Sans", sans-serif' font-size="9.4" font-weight="normal" fill="#000" text-anchor="middle" textLength="23.6" lengthAdjust="spacingAndGlyphs" stroke="#000" stroke-width="0.22">0.39%</text>
<text x="502.20" y="193.58" font-family='"Liberation Sans", sans-serif' font-size="9.4" font-weight="normal" fill="#000" text-anchor="middle" textLength="23.6" lengthAdjust="spacingAndGlyphs" stroke="#000" stroke-width="0.22">0.79%</text>
<text x="521.80" y="192.84" font-family='"Liberation Sans", sans-serif' font-size="9.4" font-weight="normal" fill="#000" text-anchor="middle" textLength="23.6" lengthAdjust="spacingAndGlyphs" stroke="#000" stroke-width="0.22">0.80%</text>
<text x="540.38" y="192.10" font-family='"Liberation Sans", sans-serif' font-size="9.4" font-weight="normal" fill="#000" text-anchor="middle" textLength="23.6" lengthAdjust="spacingAndGlyphs" stroke="#000" stroke-width="0.22">0.81%</text>
</g>
<rect x="379" y="154" width="179" height="135" rx="1.8" fill="none" stroke="#000" stroke-width="2"/>
<rect x="566" y="154" width="179" height="135" rx="1.8" fill="#f6f2f6"/>
<rect x="567.5" y="155.5" width="176" height="132" fill="none" stroke="#ffffff" stroke-width="1"/>
<clipPath id="clip3"><rect x="567" y="155" width="177" height="133"/></clipPath>
<g clip-path="url(#clip3)">
<text x="586.30" y="170.00" font-family='"Liberation Sans", sans-serif' font-size="7.6" font-weight="bold" fill="#262626" text-anchor="start" textLength="62.7" lengthAdjust="spacingAndGlyphs" stroke="#262626" stroke-width="0.25">Daily % Change JPY</text>
<path d="M603.5,184.3 L608.0,186.7 L736.7,186.7" fill="none" stroke="#e0e0e0" stroke-width="0.8"/>
<path d="M603.5,198.5 L608.0,199.7 L736.7,199.7" fill="none" stroke="#e0e0e0" stroke-width="0.8"/>
<path d="M603.5,226.9 L608.0,225.9 L736.7,225.9" fill="none" stroke="#e0e0e0" stroke-width="0.8"/>
<path d="M603.5,241.1 L608.0,238.9 L736.7,238.9" fill="none" stroke="#e0e0e0" stroke-width="0.8"/>
<path d="M602.0,255.3 L740.7,255.3 L735.7,251.1 L608.0,251.1 Z" fill="url(#g_floor)"/>
<path d="M621.8,254.8 L624.8,254.8 L623.8,251.6 L621.3,251.6 Z" fill="#e8e8e8" opacity="0.9"/>
<path d="M640.5,254.8 L643.5,254.8 L642.5,251.6 L640.0,251.6 Z" fill="#e8e8e8" opacity="0.9"/>
<path d="M659.3,254.8 L662.3,254.8 L661.3,251.6 L658.8,251.6 Z" fill="#e8e8e8" opacity="0.9"/>
<path d="M678.1,254.8 L681.1,254.8 L680.1,251.6 L677.6,251.6 Z" fill="#e8e8e8" opacity="0.9"/>
<path d="M696.9,254.8 L699.9,254.8 L698.9,251.6 L696.4,251.6 Z" fill="#e8e8e8" opacity="0.9"/>
<path d="M715.6,254.8 L718.6,254.8 L717.6,251.6 L715.1,251.6 Z" fill="#e8e8e8" opacity="0.9"/>
<path d="M602.0,212.7 L739.7,212.7" stroke="#a6a6a6" stroke-width="1.2"/>
<path d="M608.0,214.3 L736.7,214.3" stroke="#e0e0e0" stroke-width="1"/>
<path d="M602.0,184.3 L602.0,255.3" stroke="#d0d0d0" stroke-width="1.8"/>
<path d="M599.0,184.3 L601.5,184.3" stroke="#d0d0d0" stroke-width="1"/>
<text x="596.20" y="187.50" font-family='"Liberation Sans", sans-serif' font-size="7.3" font-weight="normal" fill="#383838" text-anchor="end" textLength="19.9" lengthAdjust="spacingAndGlyphs" stroke="#383838" stroke-width="0.15">0.40%</text>
<path d="M599.0,198.5 L601.5,198.5" stroke="#d0d0d0" stroke-width="1"/>
<text x="596.20" y="201.70" font-family='"Liberation Sans", sans-serif' font-size="7.3" font-weight="normal" fill="#383838" text-anchor="end" textLength="19.9" lengthAdjust="spacingAndGlyphs" stroke="#383838" stroke-width="0.15">0.20%</text>
<path d="M599.0,212.7 L601.5,212.7" stroke="#d0d0d0" stroke-width="1"/>
<text x="596.20" y="215.90" font-family='"Liberation Sans", sans-serif' font-size="7.3" font-weight="normal" fill="#383838" text-anchor="end" textLength="19.9" lengthAdjust="spacingAndGlyphs" stroke="#383838" stroke-width="0.15">0.00%</text>
<path d="M599.0,226.9 L601.5,226.9" stroke="#d0d0d0" stroke-width="1"/>
<text x="596.20" y="230.10" font-family='"Liberation Sans", sans-serif' font-size="7.3" font-weight="normal" fill="#383838" text-anchor="end" textLength="22.4" lengthAdjust="spacingAndGlyphs" stroke="#383838" stroke-width="0.15">-0.20%</text>
<path d="M599.0,241.1 L601.5,241.1" stroke="#d0d0d0" stroke-width="1"/>
<text x="596.20" y="244.30" font-family='"Liberation Sans", sans-serif' font-size="7.3" font-weight="normal" fill="#383838" text-anchor="end" textLength="22.4" lengthAdjust="spacingAndGlyphs" stroke="#383838" stroke-width="0.15">-0.40%</text>
<path d="M599.0,255.3 L601.5,255.3" stroke="#d0d0d0" stroke-width="1"/>
<text x="596.20" y="258.50" font-family='"Liberation Sans", sans-serif' font-size="7.3" font-weight="normal" fill="#383838" text-anchor="end" textLength="22.4" lengthAdjust="spacingAndGlyphs" stroke="#383838" stroke-width="0.15">-0.60%</text>
<path d="M607.0,213.2 L607.0,225.0 A7.2,1.9 0 0 0 621.4,225.0 L621.4,213.2 Z" fill="url(#g_navy)"/>
<text x="611.80" y="268.30" font-family='"Liberation Sans", sans-serif' font-size="7.3" font-weight="normal" fill="#383838" text-anchor="middle" textLength="13.4" lengthAdjust="spacingAndGlyphs" stroke="#383838" stroke-width="0.15">USD</text>
<path d="M625.8,207.5 L625.8,212.7 L640.3,212.7 L640.3,207.5 Z" fill="url(#g_navy)"/>
<ellipse cx="633.0" cy="207.5" rx="7.2" ry="1.9" fill="#263f62"/>
<text x="631.52" y="268.30" font-family='"Liberation Sans", sans-serif' font-size="7.3" font-weight="normal" fill="#383838" text-anchor="middle" textLength="13.0" lengthAdjust="spacingAndGlyphs" stroke="#383838" stroke-width="0.15">EUR</text>
<path d="M644.5,213.2 L644.5,241.3 A7.3,1.9 0 0 0 659.1,241.3 L659.1,213.2 Z" fill="url(#g_navy)"/>
<text x="651.24" y="268.30" font-family='"Liberation Sans", sans-serif' font-size="7.3" font-weight="normal" fill="#383838" text-anchor="middle" textLength="13.0" lengthAdjust="spacingAndGlyphs" stroke="#383838" stroke-width="0.15">GBP</text>
<path d="M663.3,213.2 L663.3,214.3 A7.4,1.9 0 0 0 678.0,214.3 L678.0,213.2 Z" fill="url(#g_navy)"/>
<text x="670.96" y="268.30" font-family='"Liberation Sans", sans-serif' font-size="7.3" font-weight="normal" fill="#383838" text-anchor="middle" textLength="12.4" lengthAdjust="spacingAndGlyphs" stroke="#383838" stroke-width="0.15">CHF</text>
<path d="M682.1,189.8 L682.1,212.7 L696.9,212.7 L696.9,189.8 Z" fill="url(#g_navy)"/>
<ellipse cx="689.5" cy="189.8" rx="7.4" ry="1.9" fill="#263f62"/>
<text x="690.68" y="268.30" font-family='"Liberation Sans", sans-serif' font-size="7.3" font-weight="normal" fill="#383838" text-anchor="middle" textLength="13.4" lengthAdjust="spacingAndGlyphs" stroke="#383838" stroke-width="0.15">CAD</text>
<path d="M700.9,188.3 L700.9,212.7 L715.8,212.7 L715.8,188.3 Z" fill="url(#g_navy)"/>
<ellipse cx="708.3" cy="188.3" rx="7.5" ry="1.9" fill="#263f62"/>
<text x="710.40" y="268.30" font-family='"Liberation Sans", sans-serif' font-size="7.3" font-weight="normal" fill="#383838" text-anchor="middle" textLength="14.3" lengthAdjust="spacingAndGlyphs" stroke="#383838" stroke-width="0.15">AUD</text>
<path d="M719.6,187.6 L719.6,212.7 L734.6,212.7 L734.6,187.6 Z" fill="url(#g_navy)"/>
<ellipse cx="727.1" cy="187.6" rx="7.5" ry="1.9" fill="#263f62"/>
<text x="730.12" y="268.30" font-family='"Liberation Sans", sans-serif' font-size="7.3" font-weight="normal" fill="#383838" text-anchor="middle" textLength="13.6" lengthAdjust="spacingAndGlyphs" stroke="#383838" stroke-width="0.15">NZD</text>
<text x="611.80" y="239.20" font-family='"Liberation Sans", sans-serif' font-size="9.4" font-weight="normal" fill="#000" text-anchor="middle" textLength="26.5" lengthAdjust="spacingAndGlyphs" stroke="#000" stroke-width="0.22">-0.20%</text>
<text x="631.27" y="199.00" font-family='"Liberation Sans", sans-serif' font-size="9.4" font-weight="normal" fill="#000" text-anchor="middle" textLength="23.6" lengthAdjust="spacingAndGlyphs" stroke="#000" stroke-width="0.22">0.10%</text>
<text x="650.74" y="255.53" font-family='"Liberation Sans", sans-serif' font-size="9.4" font-weight="normal" fill="#000" text-anchor="middle" textLength="26.5" lengthAdjust="spacingAndGlyphs" stroke="#000" stroke-width="0.22">-0.43%</text>
<text x="670.21" y="228.55" font-family='"Liberation Sans", sans-serif' font-size="9.4" font-weight="normal" fill="#000" text-anchor="middle" textLength="26.5" lengthAdjust="spacingAndGlyphs" stroke="#000" stroke-width="0.22">-0.05%</text>
<text x="689.68" y="181.25" font-family='"Liberation Sans", sans-serif' font-size="9.4" font-weight="normal" fill="#000" text-anchor="middle" textLength="23.6" lengthAdjust="spacingAndGlyphs" stroke="#000" stroke-width="0.22">0.35%</text>
<text x="709.15" y="179.83" font-family='"Liberation Sans", sans-serif' font-size="9.4" font-weight="normal" fill="#000" text-anchor="middle" textLength="23.6" lengthAdjust="spacingAndGlyphs" stroke="#000" stroke-width="0.22">0.37%</text>
<text x="727.58" y="179.12" font-family='"Liberation Sans", sans-serif' font-size="9.4" font-weight="normal" fill="#000" text-anchor="middle" textLength="23.6" lengthAdjust="spacingAndGlyphs" stroke="#000" stroke-width="0.22">0.38%</text>
</g>
<rect x="566" y="154" width="179" height="135" rx="1.8" fill="none" stroke="#000" stroke-width="2"/>
<rect x="8" y="295" width="179" height="135" rx="1.8" fill="#f6f2f6"/>
<rect x="9.5" y="296.5" width="176" height="132" fill="none" stroke="#ffffff" stroke-width="1"/>
<clipPath id="clip4"><rect x="9" y="296" width="177" height="133"/></clipPath>
<g clip-path="url(#clip4)">
<text x="27.60" y="311.00" font-family='"Liberation Sans", sans-serif' font-size="7.6" font-weight="bold" fill="#262626" text-anchor="start" textLength="64.7" lengthAdjust="spacingAndGlyphs" stroke="#262626" stroke-width="0.25">Daily % Change CHF</text>
<path d="M45.5,324.7 L50.0,327.1 L178.2,327.1" fill="none" stroke="#e0e0e0" stroke-width="0.8"/>
<path d="M45.5,339.4 L50.0,340.7 L178.2,340.7" fill="none" stroke="#e0e0e0" stroke-width="0.8"/>
<path d="M45.5,354.2 L50.0,354.3 L178.2,354.3" fill="none" stroke="#e0e0e0" stroke-width="0.8"/>
<path d="M45.5,383.6 L50.0,381.4 L178.2,381.4" fill="none" stroke="#e0e0e0" stroke-width="0.8"/>
<path d="M44.0,398.4 L182.2,398.4 L177.2,394.1 L50.0,394.1 Z" fill="url(#g_floor)"/>
<path d="M64.0,397.9 L67.0,397.9 L66.0,394.6 L63.5,394.6 Z" fill="#e8e8e8" opacity="0.9"/>
<path d="M82.7,397.9 L85.7,397.9 L84.7,394.6 L82.2,394.6 Z" fill="#e8e8e8" opacity="0.9"/>
<path d="M101.3,397.9 L104.3,397.9 L103.3,394.6 L100.8,394.6 Z" fill="#e8e8e8" opacity="0.9"/>
<path d="M120.0,397.9 L123.0,397.9 L122.0,394.6 L119.5,394.6 Z" fill="#e8e8e8" opacity="0.9"/>
<path d="M138.7,397.9 L141.7,397.9 L140.7,394.6 L138.2,394.6 Z" fill="#e8e8e8" opacity="0.9"/>
<path d="M157.3,397.9 L160.3,397.9 L159.3,394.6 L156.8,394.6 Z" fill="#e8e8e8" opacity="0.9"/>
<path d="M44.0,368.9 L181.2,368.9" stroke="#a6a6a6" stroke-width="1.2"/>
<path d="M50.0,369.3 L178.2,369.3" stroke="#e0e0e0" stroke-width="1"/>
<path d="M44.0,324.7 L44.0,398.4" stroke="#8eaad0" stroke-width="1.8"/>
<path d="M41.0,324.7 L43.5,324.7" stroke="#4a78b0" stroke-width="1"/>
<text x="37.40" y="327.88" font-family='"Liberation Sans", sans-serif' font-size="7.3" font-weight="normal" fill="#383838" text-anchor="end" textLength="19.9" lengthAdjust="spacingAndGlyphs" stroke="#383838" stroke-width="0.15">0.60%</text>
<path d="M41.0,339.4 L43.5,339.4" stroke="#4a78b0" stroke-width="1"/>
<text x="37.40" y="342.62" font-family='"Liberation Sans", sans-serif' font-size="7.3" font-weight="normal" fill="#383838" text-anchor="end" textLength="19.9" lengthAdjust="spacingAndGlyphs" stroke="#383838" stroke-width="0.15">0.40%</text>
<path d="M41.0,354.2 L43.5,354.2" stroke="#4a78b0" stroke-width="1"/>
<text x="37.40" y="357.36" font-family='"Liberation Sans", sans-serif' font-size="7.3" font-weight="normal" fill="#383838" text-anchor="end" textLength="19.9" lengthAdjust="spacingAndGlyphs" stroke="#383838" stroke-width="0.15">0.20%</text>
<path d="M41.0,368.9 L43.5,368.9" stroke="#4a78b0" stroke-width="1"/>
<text x="37.40" y="372.10" font-family='"Liberation Sans", sans-serif' font-size="7.3" font-weight="normal" fill="#383838" text-anchor="end" textLength="19.9" lengthAdjust="spacingAndGlyphs" stroke="#383838" stroke-width="0.15">0.00%</text>
<path d="M41.0,383.6 L43.5,383.6" stroke="#4a78b0" stroke-width="1"/>
<text x="37.40" y="386.84" font-family='"Liberation Sans", sans-serif' font-size="7.3" font-weight="normal" fill="#383838" text-anchor="end" textLength="22.4" lengthAdjust="spacingAndGlyphs" stroke="#383838" stroke-width="0.15">-0.20%</text>
<path d="M41.0,398.4 L43.5,398.4" stroke="#4a78b0" stroke-width="1"/>
<text x="37.40" y="401.58" font-family='"Liberation Sans", sans-serif' font-size="7.3" font-weight="normal" fill="#383838" text-anchor="end" textLength="22.4" lengthAdjust="spacingAndGlyphs" stroke="#383838" stroke-width="0.15">-0.40%</text>
<path d="M49.4,369.4 L49.4,378.1 A7.2,1.9 0 0 0 63.8,378.1 L63.8,369.4 Z" fill="url(#g_ltgreen)"/>
<text x="54.20" y="412.00" font-family='"Liberation Sans", sans-serif' font-size="7.3" font-weight="normal" fill="#383838" text-anchor="middle" textLength="13.4" lengthAdjust="spacingAndGlyphs" stroke="#383838" stroke-width="0.15">USD</text>
<path d="M68.0,359.7 L68.0,368.9 L82.5,368.9 L82.5,359.7 Z" fill="url(#g_ltgreen)"/>
<ellipse cx="75.3" cy="359.7" rx="7.2" ry="1.9" fill="#dce8bf"/>
<text x="73.80" y="412.00" font-family='"Liberation Sans", sans-serif' font-size="7.3" font-weight="normal" fill="#383838" text-anchor="middle" textLength="13.0" lengthAdjust="spacingAndGlyphs" stroke="#383838" stroke-width="0.15">EUR</text>
<path d="M86.7,369.4 L86.7,395.7 A7.3,1.9 0 0 0 101.3,395.7 L101.3,369.4 Z" fill="url(#g_ltgreen)"/>
<text x="93.40" y="412.00" font-family='"Liberation Sans", sans-serif' font-size="7.3" font-weight="normal" fill="#383838" text-anchor="middle" textLength="13.0" lengthAdjust="spacingAndGlyphs" stroke="#383838" stroke-width="0.15">GBP</text>
<path d="M105.3,367.1 L105.3,368.9 L120.0,368.9 L120.0,367.1 Z" fill="url(#g_ltgreen)"/>
<ellipse cx="112.7" cy="367.1" rx="7.4" ry="1.9" fill="#dce8bf"/>
<text x="113.00" y="412.00" font-family='"Liberation Sans", sans-serif' font-size="7.3" font-weight="normal" fill="#383838" text-anchor="middle" textLength="10.2" lengthAdjust="spacingAndGlyphs" stroke="#383838" stroke-width="0.15">JPY</text>
<path d="M124.0,342.1 L124.0,368.9 L138.8,368.9 L138.8,342.1 Z" fill="url(#g_ltgreen)"/>
<ellipse cx="131.4" cy="342.1" rx="7.4" ry="1.9" fill="#dce8bf"/>
<text x="132.60" y="412.00" font-family='"Liberation Sans", sans-serif' font-size="7.3" font-weight="normal" fill="#383838" text-anchor="middle" textLength="13.4" lengthAdjust="spacingAndGlyphs" stroke="#383838" stroke-width="0.15">CAD</text>
<path d="M142.7,340.6 L142.7,368.9 L157.6,368.9 L157.6,340.6 Z" fill="url(#g_ltgreen)"/>
<ellipse cx="150.1" cy="340.6" rx="7.5" ry="1.9" fill="#dce8bf"/>
<text x="152.20" y="412.00" font-family='"Liberation Sans", sans-serif' font-size="7.3" font-weight="normal" fill="#383838" text-anchor="middle" textLength="14.3" lengthAdjust="spacingAndGlyphs" stroke="#383838" stroke-width="0.15">AUD</text>
<path d="M161.3,339.1 L161.3,368.9 L176.3,368.9 L176.3,339.1 Z" fill="url(#g_ltgreen)"/>
<ellipse cx="168.8" cy="339.1" rx="7.5" ry="1.9" fill="#dce8bf"/>
<text x="171.80" y="412.00" font-family='"Liberation Sans", sans-serif' font-size="7.3" font-weight="normal" fill="#383838" text-anchor="middle" textLength="13.6" lengthAdjust="spacingAndGlyphs" stroke="#383838" stroke-width="0.15">NZD</text>
<text x="54.20" y="392.25" font-family='"Liberation Sans", sans-serif' font-size="9.4" font-weight="normal" fill="#000" text-anchor="middle" textLength="26.5" lengthAdjust="spacingAndGlyphs" stroke="#000" stroke-width="0.22">-0.15%</text>
<text x="73.55" y="351.24" font-family='"Liberation Sans", sans-serif' font-size="9.4" font-weight="normal" fill="#000" text-anchor="middle" textLength="23.6" lengthAdjust="spacingAndGlyphs" stroke="#000" stroke-width="0.22">0.15%</text>
<text x="92.90" y="408.90" font-family='"Liberation Sans", sans-serif' font-size="9.4" font-weight="normal" fill="#000" text-anchor="middle" textLength="26.5" lengthAdjust="spacingAndGlyphs" stroke="#000" stroke-width="0.22">-0.39%</text>
<text x="112.25" y="358.61" font-family='"Liberation Sans", sans-serif' font-size="9.4" font-weight="normal" fill="#000" text-anchor="middle" textLength="23.6" lengthAdjust="spacingAndGlyphs" stroke="#000" stroke-width="0.22">0.05%</text>
<text x="131.60" y="333.56" font-family='"Liberation Sans", sans-serif' font-size="9.4" font-weight="normal" fill="#000" text-anchor="middle" textLength="23.6" lengthAdjust="spacingAndGlyphs" stroke="#000" stroke-width="0.22">0.39%</text>
<text x="150.95" y="332.08" font-family='"Liberation Sans", sans-serif' font-size="9.4" font-weight="normal" fill="#000" text-anchor="middle" textLength="23.6" lengthAdjust="spacingAndGlyphs" stroke="#000" stroke-width="0.22">0.41%</text>
<text x="169.08" y="330.61" font-family='"Liberation Sans", sans-serif' font-size="9.4" font-weight="normal" fill="#000" text-anchor="middle" textLength="23.6" lengthAdjust="spacingAndGlyphs" stroke="#000" stroke-width="0.22">0.43%</text>
</g>
<rect x="8" y="295" width="179" height="135" rx="1.8" fill="none" stroke="#000" stroke-width="2"/>
<rect x="193" y="296" width="179" height="135" rx="1.8" fill="#f6f2f6"/>
<rect x="194.5" y="297.5" width="176" height="132" fill="none" stroke="#ffffff" stroke-width="1"/>
<clipPath id="clip5"><rect x="194" y="297" width="177" height="133"/></clipPath>
<g clip-path="url(#clip5)">
<text x="213.00" y="312.00" font-family='"Liberation Sans", sans-serif' font-size="7.6" font-weight="bold" fill="#262626" text-anchor="start" textLength="66.0" lengthAdjust="spacingAndGlyphs" stroke="#262626" stroke-width="0.25">Daily % Change CAD</text>
<path d="M230.5,325.3 L235.0,327.8 L363.2,327.8" fill="none" stroke="#e0e0e0" stroke-width="0.8"/>
<path d="M230.5,355.1 L235.0,355.2 L363.2,355.2" fill="none" stroke="#e0e0e0" stroke-width="0.8"/>
<path d="M230.5,370.0 L235.0,369.0 L363.2,369.0" fill="none" stroke="#e0e0e0" stroke-width="0.8"/>
<path d="M230.5,385.0 L235.0,382.7 L363.2,382.7" fill="none" stroke="#e0e0e0" stroke-width="0.8"/>
<path d="M229.0,399.9 L367.2,399.9 L362.2,395.6 L235.0,395.6 Z" fill="url(#g_floor)"/>
<path d="M249.0,399.4 L252.0,399.4 L251.0,396.1 L248.5,396.1 Z" fill="#e8e8e8" opacity="0.9"/>
<path d="M267.7,399.4 L270.7,399.4 L269.7,396.1 L267.2,396.1 Z" fill="#e8e8e8" opacity="0.9"/>
<path d="M286.5,399.4 L289.5,399.4 L288.5,396.1 L286.0,396.1 Z" fill="#e8e8e8" opacity="0.9"/>
<path d="M305.3,399.4 L308.3,399.4 L307.3,396.1 L304.8,396.1 Z" fill="#e8e8e8" opacity="0.9"/>
<path d="M324.0,399.4 L327.0,399.4 L326.0,396.1 L323.5,396.1 Z" fill="#e8e8e8" opacity="0.9"/>
<path d="M342.8,399.4 L345.8,399.4 L344.8,396.1 L342.3,396.1 Z" fill="#e8e8e8" opacity="0.9"/>
<path d="M229.0,340.2 L366.2,340.2" stroke="#a6a6a6" stroke-width="1.2"/>
<path d="M235.0,343.0 L363.2,343.0" stroke="#e0e0e0" stroke-width="1"/>
<path d="M229.0,325.3 L229.0,399.9" stroke="#8eaad0" stroke-width="1.8"/>
<path d="M226.0,325.3 L228.5,325.3" stroke="#4a78b0" stroke-width="1"/>
<text x="222.40" y="328.48" font-family='"Liberation Sans", sans-serif' font-size="7.3" font-weight="normal" fill="#383838" text-anchor="end" textLength="19.9" lengthAdjust="spacingAndGlyphs" stroke="#383838" stroke-width="0.15">0.20%</text>
<path d="M226.0,340.2 L228.5,340.2" stroke="#4a78b0" stroke-width="1"/>
<text x="222.40" y="343.40" font-family='"Liberation Sans", sans-serif' font-size="7.3" font-weight="normal" fill="#383838" text-anchor="end" textLength="19.9" lengthAdjust="spacingAndGlyphs" stroke="#383838" stroke-width="0.15">0.00%</text>
<path d="M226.0,355.1 L228.5,355.1" stroke="#4a78b0" stroke-width="1"/>
<text x="222.40" y="358.32" font-family='"Liberation Sans", sans-serif' font-size="7.3" font-weight="normal" fill="#383838" text-anchor="end" textLength="22.4" lengthAdjust="spacingAndGlyphs" stroke="#383838" stroke-width="0.15">-0.20%</text>
<path d="M226.0,370.0 L228.5,370.0" stroke="#4a78b0" stroke-width="1"/>
<text x="222.40" y="373.24" font-family='"Liberation Sans", sans-serif' font-size="7.3" font-weight="normal" fill="#383838" text-anchor="end" textLength="22.4" lengthAdjust="spacingAndGlyphs" stroke="#383838" stroke-width="0.15">-0.40%</text>
<path d="M226.0,385.0 L228.5,385.0" stroke="#4a78b0" stroke-width="1"/>
<text x="222.40" y="388.16" font-family='"Liberation Sans", sans-serif' font-size="7.3" font-weight="normal" fill="#383838" text-anchor="end" textLength="22.4" lengthAdjust="spacingAndGlyphs" stroke="#383838" stroke-width="0.15">-0.60%</text>
<path d="M226.0,399.9 L228.5,399.9" stroke="#4a78b0" stroke-width="1"/>
<text x="222.40" y="403.08" font-family='"Liberation Sans", sans-serif' font-size="7.3" font-weight="normal" fill="#383838" text-anchor="end" textLength="22.4" lengthAdjust="spacingAndGlyphs" stroke="#383838" stroke-width="0.15">-0.80%</text>
<path d="M234.2,340.7 L234.2,379.3 A7.2,1.9 0 0 0 248.6,379.3 L248.6,340.7 Z" fill="url(#g_ltblue)"/>
<text x="239.00" y="413.00" font-family='"Liberation Sans", sans-serif' font-size="7.3" font-weight="normal" fill="#383838" text-anchor="middle" textLength="13.4" lengthAdjust="spacingAndGlyphs" stroke="#383838" stroke-width="0.15">USD</text>
<path d="M253.0,340.7 L253.0,356.9 A7.2,1.9 0 0 0 267.5,356.9 L267.5,340.7 Z" fill="url(#g_ltblue)"/>
<text x="258.72" y="413.00" font-family='"Liberation Sans", sans-serif' font-size="7.3" font-weight="normal" fill="#383838" text-anchor="middle" textLength="13.0" lengthAdjust="spacingAndGlyphs" stroke="#383838" stroke-width="0.15">EUR</text>
<path d="M271.7,340.7 L271.7,397.2 A7.3,1.9 0 0 0 286.3,397.2 L286.3,340.7 Z" fill="url(#g_ltblue)"/>
<text x="278.44" y="413.00" font-family='"Liberation Sans", sans-serif' font-size="7.3" font-weight="normal" fill="#383838" text-anchor="middle" textLength="13.0" lengthAdjust="spacingAndGlyphs" stroke="#383838" stroke-width="0.15">GBP</text>
<path d="M290.5,340.7 L290.5,364.4 A7.4,1.9 0 0 0 305.2,364.4 L305.2,340.7 Z" fill="url(#g_ltblue)"/>
<text x="298.16" y="413.00" font-family='"Liberation Sans", sans-serif' font-size="7.3" font-weight="normal" fill="#383838" text-anchor="middle" textLength="10.2" lengthAdjust="spacingAndGlyphs" stroke="#383838" stroke-width="0.15">JPY</text>
<path d="M309.3,340.7 L309.3,367.4 A7.4,1.9 0 0 0 324.1,367.4 L324.1,340.7 Z" fill="url(#g_ltblue)"/>
<text x="317.88" y="413.00" font-family='"Liberation Sans", sans-serif' font-size="7.3" font-weight="normal" fill="#383838" text-anchor="middle" textLength="12.4" lengthAdjust="spacingAndGlyphs" stroke="#383838" stroke-width="0.15">CHF</text>
<ellipse cx="335.5" cy="341.1" rx="7.5" ry="1.2" fill="#56606c"/>
<text x="337.60" y="413.00" font-family='"Liberation Sans", sans-serif' font-size="7.3" font-weight="normal" fill="#383838" text-anchor="middle" textLength="14.3" lengthAdjust="spacingAndGlyphs" stroke="#383838" stroke-width="0.15">AUD</text>
<ellipse cx="354.3" cy="341.5" rx="7.5" ry="1.2" fill="#56606c"/>
<text x="357.32" y="413.00" font-family='"Liberation Sans", sans-serif' font-size="7.3" font-weight="normal" fill="#383838" text-anchor="middle" textLength="13.6" lengthAdjust="spacingAndGlyphs" stroke="#383838" stroke-width="0.15">NZD</text>
<text x="239.00" y="393.53" font-family='"Liberation Sans", sans-serif' font-size="9.4" font-weight="normal" fill="#000" text-anchor="middle" textLength="26.5" lengthAdjust="spacingAndGlyphs" stroke="#000" stroke-width="0.22">-0.55%</text>
<text x="258.47" y="371.15" font-family='"Liberation Sans", sans-serif' font-size="9.4" font-weight="normal" fill="#000" text-anchor="middle" textLength="26.5" lengthAdjust="spacingAndGlyphs" stroke="#000" stroke-width="0.22">-0.25%</text>
<text x="277.94" y="409.90" font-family='"Liberation Sans", sans-serif' font-size="9.4" font-weight="normal" fill="#000" text-anchor="middle" textLength="26.5" lengthAdjust="spacingAndGlyphs" stroke="#000" stroke-width="0.22">-0.79%</text>
<text x="297.41" y="378.61" font-family='"Liberation Sans", sans-serif' font-size="9.4" font-weight="normal" fill="#000" text-anchor="middle" textLength="26.5" lengthAdjust="spacingAndGlyphs" stroke="#000" stroke-width="0.22">-0.35%</text>
<text x="316.88" y="381.59" font-family='"Liberation Sans", sans-serif' font-size="9.4" font-weight="normal" fill="#000" text-anchor="middle" textLength="26.5" lengthAdjust="spacingAndGlyphs" stroke="#000" stroke-width="0.22">-0.39%</text>
<text x="336.35" y="332.85" font-family='"Liberation Sans", sans-serif' font-size="9.4" font-weight="normal" fill="#000" text-anchor="middle" textLength="23.6" lengthAdjust="spacingAndGlyphs" stroke="#000" stroke-width="0.22">0.01%</text>
<text x="354.08" y="333.60" font-family='"Liberation Sans", sans-serif' font-size="9.4" font-weight="normal" fill="#000" text-anchor="middle" textLength="23.6" lengthAdjust="spacingAndGlyphs" stroke="#000" stroke-width="0.22">0.00%</text>
</g>
<rect x="193" y="296" width="179" height="135" rx="1.8" fill="none" stroke="#000" stroke-width="2"/>
<rect x="379" y="296" width="179" height="135" rx="1.8" fill="#f6f2f6"/>
<rect x="380.5" y="297.5" width="176" height="132" fill="none" stroke="#ffffff" stroke-width="1"/>
<clipPath id="clip6"><rect x="380" y="297" width="177" height="133"/></clipPath>
<g clip-path="url(#clip6)">
<text x="400.20" y="311.00" font-family='"Liberation Sans", sans-serif' font-size="7.6" font-weight="bold" fill="#262626" text-anchor="start" textLength="67.2" lengthAdjust="spacingAndGlyphs" stroke="#262626" stroke-width="0.25">Daily % Change AUD</text>
<path d="M417.3,325.2 L421.8,327.7 L551.0,327.7" fill="none" stroke="#e0e0e0" stroke-width="0.8"/>
<path d="M417.3,354.8 L421.8,354.9 L551.0,354.9" fill="none" stroke="#e0e0e0" stroke-width="0.8"/>
<path d="M417.3,369.6 L421.8,368.5 L551.0,368.5" fill="none" stroke="#e0e0e0" stroke-width="0.8"/>
<path d="M417.3,384.4 L421.8,382.1 L551.0,382.1" fill="none" stroke="#e0e0e0" stroke-width="0.8"/>
<path d="M415.8,399.2 L555.0,399.2 L550.0,394.9 L421.8,394.9 Z" fill="url(#g_floor)"/>
<path d="M436.1,398.7 L439.1,398.7 L438.1,395.4 L435.6,395.4 Z" fill="#e8e8e8" opacity="0.9"/>
<path d="M454.9,398.7 L457.9,398.7 L456.9,395.4 L454.4,395.4 Z" fill="#e8e8e8" opacity="0.9"/>
<path d="M473.8,398.7 L476.8,398.7 L475.8,395.4 L473.2,395.4 Z" fill="#e8e8e8" opacity="0.9"/>
<path d="M492.6,398.7 L495.6,398.7 L494.6,395.4 L492.1,395.4 Z" fill="#e8e8e8" opacity="0.9"/>
<path d="M511.5,398.7 L514.5,398.7 L513.5,395.4 L511.0,395.4 Z" fill="#e8e8e8" opacity="0.9"/>
<path d="M530.3,398.7 L533.3,398.7 L532.3,395.4 L529.8,395.4 Z" fill="#e8e8e8" opacity="0.9"/>
<path d="M415.8,340.0 L554.0,340.0" stroke="#a6a6a6" stroke-width="1.2"/>
<path d="M421.8,342.8 L551.0,342.8" stroke="#e0e0e0" stroke-width="1"/>
<path d="M415.8,325.2 L415.8,399.2" stroke="#8eaad0" stroke-width="1.8"/>
<path d="M412.8,325.2 L415.3,325.2" stroke="#4a78b0" stroke-width="1"/>
<text x="409.50" y="328.40" font-family='"Liberation Sans", sans-serif' font-size="7.3" font-weight="normal" fill="#383838" text-anchor="end" textLength="19.9" lengthAdjust="spacingAndGlyphs" stroke="#383838" stroke-width="0.15">0.20%</text>
<path d="M412.8,340.0 L415.3,340.0" stroke="#4a78b0" stroke-width="1"/>
<text x="409.50" y="343.20" font-family='"Liberation Sans", sans-serif' font-size="7.3" font-weight="normal" fill="#383838" text-anchor="end" textLength="19.9" lengthAdjust="spacingAndGlyphs" stroke="#383838" stroke-width="0.15">0.00%</text>
<path d="M412.8,354.8 L415.3,354.8" stroke="#4a78b0" stroke-width="1"/>
<text x="409.50" y="358.00" font-family='"Liberation Sans", sans-serif' font-size="7.3" font-weight="normal" fill="#383838" text-anchor="end" textLength="22.4" lengthAdjust="spacingAndGlyphs" stroke="#383838" stroke-width="0.15">-0.20%</text>
<path d="M412.8,369.6 L415.3,369.6" stroke="#4a78b0" stroke-width="1"/>
<text x="409.50" y="372.80" font-family='"Liberation Sans", sans-serif' font-size="7.3" font-weight="normal" fill="#383838" text-anchor="end" textLength="22.4" lengthAdjust="spacingAndGlyphs" stroke="#383838" stroke-width="0.15">-0.40%</text>
<path d="M412.8,384.4 L415.3,384.4" stroke="#4a78b0" stroke-width="1"/>
<text x="409.50" y="387.60" font-family='"Liberation Sans", sans-serif' font-size="7.3" font-weight="normal" fill="#383838" text-anchor="end" textLength="22.4" lengthAdjust="spacingAndGlyphs" stroke="#383838" stroke-width="0.15">-0.60%</text>
<path d="M412.8,399.2 L415.3,399.2" stroke="#4a78b0" stroke-width="1"/>
<text x="409.50" y="402.40" font-family='"Liberation Sans", sans-serif' font-size="7.3" font-weight="normal" fill="#383838" text-anchor="end" textLength="22.4" lengthAdjust="spacingAndGlyphs" stroke="#383838" stroke-width="0.15">-0.80%</text>
<path d="M421.2,340.5 L421.2,380.3 A7.2,1.9 0 0 0 435.6,380.3 L435.6,340.5 Z" fill="url(#g_pink)"/>
<text x="426.00" y="413.00" font-family='"Liberation Sans", sans-serif' font-size="7.3" font-weight="normal" fill="#383838" text-anchor="middle" textLength="13.4" lengthAdjust="spacingAndGlyphs" stroke="#383838" stroke-width="0.15">USD</text>
<path d="M440.1,340.5 L440.1,357.3 A7.2,1.9 0 0 0 454.6,357.3 L454.6,340.5 Z" fill="url(#g_pink)"/>
<text x="445.80" y="413.00" font-family='"Liberation Sans", sans-serif' font-size="7.3" font-weight="normal" fill="#383838" text-anchor="middle" textLength="13.0" lengthAdjust="spacingAndGlyphs" stroke="#383838" stroke-width="0.15">EUR</text>
<path d="M458.9,340.5 L458.9,397.3 A7.3,1.9 0 0 0 473.5,397.3 L473.5,340.5 Z" fill="url(#g_pink)"/>
<text x="465.60" y="413.00" font-family='"Liberation Sans", sans-serif' font-size="7.3" font-weight="normal" fill="#383838" text-anchor="middle" textLength="13.0" lengthAdjust="spacingAndGlyphs" stroke="#383838" stroke-width="0.15">GBP</text>
<path d="M477.8,340.5 L477.8,365.5 A7.4,1.9 0 0 0 492.4,365.5 L492.4,340.5 Z" fill="url(#g_pink)"/>
<text x="485.40" y="413.00" font-family='"Liberation Sans", sans-serif' font-size="7.3" font-weight="normal" fill="#383838" text-anchor="middle" textLength="10.2" lengthAdjust="spacingAndGlyphs" stroke="#383838" stroke-width="0.15">JPY</text>
<path d="M496.6,340.5 L496.6,368.4 A7.4,1.9 0 0 0 511.4,368.4 L511.4,340.5 Z" fill="url(#g_pink)"/>
<text x="505.20" y="413.00" font-family='"Liberation Sans", sans-serif' font-size="7.3" font-weight="normal" fill="#383838" text-anchor="middle" textLength="12.4" lengthAdjust="spacingAndGlyphs" stroke="#383838" stroke-width="0.15">CHF</text>
<ellipse cx="522.9" cy="341.7" rx="7.5" ry="1.2" fill="#7c5e5e"/>
<text x="525.00" y="413.00" font-family='"Liberation Sans", sans-serif' font-size="7.3" font-weight="normal" fill="#383838" text-anchor="middle" textLength="13.4" lengthAdjust="spacingAndGlyphs" stroke="#383838" stroke-width="0.15">CAD</text>
<ellipse cx="541.8" cy="340.6" rx="7.5" ry="1.2" fill="#7c5e5e"/>
<text x="544.80" y="413.00" font-family='"Liberation Sans", sans-serif' font-size="7.3" font-weight="normal" fill="#383838" text-anchor="middle" textLength="13.6" lengthAdjust="spacingAndGlyphs" stroke="#383838" stroke-width="0.15">NZD</text>
<text x="426.00" y="394.48" font-family='"Liberation Sans", sans-serif' font-size="9.4" font-weight="normal" fill="#000" text-anchor="middle" textLength="26.5" lengthAdjust="spacingAndGlyphs" stroke="#000" stroke-width="0.22">-0.57%</text>
<text x="445.55" y="371.54" font-family='"Liberation Sans", sans-serif' font-size="9.4" font-weight="normal" fill="#000" text-anchor="middle" textLength="26.5" lengthAdjust="spacingAndGlyphs" stroke="#000" stroke-width="0.22">-0.26%</text>
<text x="465.10" y="409.90" font-family='"Liberation Sans", sans-serif' font-size="9.4" font-weight="normal" fill="#000" text-anchor="middle" textLength="26.5" lengthAdjust="spacingAndGlyphs" stroke="#000" stroke-width="0.22">-0.80%</text>
<text x="484.65" y="379.68" font-family='"Liberation Sans", sans-serif' font-size="9.4" font-weight="normal" fill="#000" text-anchor="middle" textLength="26.5" lengthAdjust="spacingAndGlyphs" stroke="#000" stroke-width="0.22">-0.37%</text>
<text x="504.20" y="382.64" font-family='"Liberation Sans", sans-serif' font-size="9.4" font-weight="normal" fill="#000" text-anchor="middle" textLength="26.5" lengthAdjust="spacingAndGlyphs" stroke="#000" stroke-width="0.22">-0.41%</text>
<text x="523.75" y="353.04" font-family='"Liberation Sans", sans-serif' font-size="9.4" font-weight="normal" fill="#000" text-anchor="middle" textLength="26.5" lengthAdjust="spacingAndGlyphs" stroke="#000" stroke-width="0.22">-0.01%</text>
<text x="541.88" y="331.92" font-family='"Liberation Sans", sans-serif' font-size="9.4" font-weight="normal" fill="#000" text-anchor="middle" textLength="23.6" lengthAdjust="spacingAndGlyphs" stroke="#000" stroke-width="0.22">0.02%</text>
</g>
<rect x="379" y="296" width="179" height="135" rx="1.8" fill="none" stroke="#000" stroke-width="2"/>
<rect x="568" y="295" width="179" height="135" rx="1.8" fill="#f6f2f6"/>
<rect x="569.5" y="296.5" width="176" height="132" fill="none" stroke="#ffffff" stroke-width="1"/>
<clipPath id="clip7"><rect x="569" y="296" width="177" height="133"/></clipPath>
<g clip-path="url(#clip7)">
<text x="584.70" y="312.00" font-family='"Liberation Sans", sans-serif' font-size="7.6" font-weight="bold" fill="#262626" text-anchor="start" textLength="66.0" lengthAdjust="spacingAndGlyphs" stroke="#262626" stroke-width="0.25">Daily % Change NZD</text>
<path d="M602.3,340.9 L606.8,342.2 L736.0,342.2" fill="none" stroke="#e0e0e0" stroke-width="0.8"/>
<path d="M602.3,355.7 L606.8,355.8 L736.0,355.8" fill="none" stroke="#e0e0e0" stroke-width="0.8"/>
<path d="M602.3,370.6 L606.8,369.5 L736.0,369.5" fill="none" stroke="#e0e0e0" stroke-width="0.8"/>
<path d="M602.3,385.4 L606.8,383.2 L736.0,383.2" fill="none" stroke="#e0e0e0" stroke-width="0.8"/>
<path d="M600.8,400.3 L740.0,400.3 L735.0,396.0 L606.8,396.0 Z" fill="url(#g_floor)"/>
<path d="M621.2,399.8 L624.2,399.8 L623.2,396.5 L620.8,396.5 Z" fill="#e8e8e8" opacity="0.9"/>
<path d="M640.0,399.8 L643.0,399.8 L642.0,396.5 L639.5,396.5 Z" fill="#e8e8e8" opacity="0.9"/>
<path d="M658.8,399.8 L661.8,399.8 L660.8,396.5 L658.2,396.5 Z" fill="#e8e8e8" opacity="0.9"/>
<path d="M677.5,399.8 L680.5,399.8 L679.5,396.5 L677.0,396.5 Z" fill="#e8e8e8" opacity="0.9"/>
<path d="M696.2,399.8 L699.2,399.8 L698.2,396.5 L695.8,396.5 Z" fill="#e8e8e8" opacity="0.9"/>
<path d="M715.0,399.8 L718.0,399.8 L717.0,396.5 L714.5,396.5 Z" fill="#e8e8e8" opacity="0.9"/>
<path d="M600.8,326.0 L739.0,326.0" stroke="#a6a6a6" stroke-width="1.2"/>
<path d="M606.8,330.0 L736.0,330.0" stroke="#e0e0e0" stroke-width="1"/>
<path d="M600.8,326.0 L600.8,400.3" stroke="#8eaad0" stroke-width="1.8"/>
<path d="M597.8,326.0 L600.3,326.0" stroke="#4a78b0" stroke-width="1"/>
<text x="594.20" y="329.20" font-family='"Liberation Sans", sans-serif' font-size="7.3" font-weight="normal" fill="#383838" text-anchor="end" textLength="19.9" lengthAdjust="spacingAndGlyphs" stroke="#383838" stroke-width="0.15">0.00%</text>
<path d="M597.8,340.9 L600.3,340.9" stroke="#4a78b0" stroke-width="1"/>
<text x="594.20" y="344.06" font-family='"Liberation Sans", sans-serif' font-size="7.3" font-weight="normal" fill="#383838" text-anchor="end" textLength="22.4" lengthAdjust="spacingAndGlyphs" stroke="#383838" stroke-width="0.15">-0.20%</text>
<path d="M597.8,355.7 L600.3,355.7" stroke="#4a78b0" stroke-width="1"/>
<text x="594.20" y="358.92" font-family='"Liberation Sans", sans-serif' font-size="7.3" font-weight="normal" fill="#383838" text-anchor="end" textLength="22.4" lengthAdjust="spacingAndGlyphs" stroke="#383838" stroke-width="0.15">-0.40%</text>
<path d="M597.8,370.6 L600.3,370.6" stroke="#4a78b0" stroke-width="1"/>
<text x="594.20" y="373.78" font-family='"Liberation Sans", sans-serif' font-size="7.3" font-weight="normal" fill="#383838" text-anchor="end" textLength="22.4" lengthAdjust="spacingAndGlyphs" stroke="#383838" stroke-width="0.15">-0.60%</text>
<path d="M597.8,385.4 L600.3,385.4" stroke="#4a78b0" stroke-width="1"/>
<text x="594.20" y="388.64" font-family='"Liberation Sans", sans-serif' font-size="7.3" font-weight="normal" fill="#383838" text-anchor="end" textLength="22.4" lengthAdjust="spacingAndGlyphs" stroke="#383838" stroke-width="0.15">-0.80%</text>
<path d="M597.8,400.3 L600.3,400.3" stroke="#4a78b0" stroke-width="1"/>
<text x="594.20" y="403.50" font-family='"Liberation Sans", sans-serif' font-size="7.3" font-weight="normal" fill="#383838" text-anchor="end" textLength="22.4" lengthAdjust="spacingAndGlyphs" stroke="#383838" stroke-width="0.15">-1.00%</text>
<path d="M606.5,326.5 L606.5,366.5 A7.2,1.9 0 0 0 620.9,366.5 L620.9,326.5 Z" fill="url(#g_red)"/>
<text x="611.30" y="413.40" font-family='"Liberation Sans", sans-serif' font-size="7.3" font-weight="normal" fill="#383838" text-anchor="middle" textLength="13.4" lengthAdjust="spacingAndGlyphs" stroke="#383838" stroke-width="0.15">USD</text>
<path d="M625.2,326.5 L625.2,344.2 A7.2,1.9 0 0 0 639.8,344.2 L639.8,326.5 Z" fill="url(#g_red)"/>
<text x="631.00" y="413.40" font-family='"Liberation Sans", sans-serif' font-size="7.3" font-weight="normal" fill="#383838" text-anchor="middle" textLength="13.0" lengthAdjust="spacingAndGlyphs" stroke="#383838" stroke-width="0.15">EUR</text>
<path d="M644.0,326.5 L644.0,384.3 A7.3,1.9 0 0 0 658.6,384.3 L658.6,326.5 Z" fill="url(#g_red)"/>
<text x="650.70" y="413.40" font-family='"Liberation Sans", sans-serif' font-size="7.3" font-weight="normal" fill="#383838" text-anchor="middle" textLength="13.0" lengthAdjust="spacingAndGlyphs" stroke="#383838" stroke-width="0.15">GBP</text>
<path d="M662.8,326.5 L662.8,352.3 A7.4,1.9 0 0 0 677.5,352.3 L677.5,326.5 Z" fill="url(#g_red)"/>
<text x="670.40" y="413.40" font-family='"Liberation Sans", sans-serif' font-size="7.3" font-weight="normal" fill="#383838" text-anchor="middle" textLength="10.2" lengthAdjust="spacingAndGlyphs" stroke="#383838" stroke-width="0.15">JPY</text>
<path d="M681.5,326.5 L681.5,356.0 A7.4,1.9 0 0 0 696.3,356.0 L696.3,326.5 Z" fill="url(#g_red)"/>
<text x="690.10" y="413.40" font-family='"Liberation Sans", sans-serif' font-size="7.3" font-weight="normal" fill="#383838" text-anchor="middle" textLength="12.4" lengthAdjust="spacingAndGlyphs" stroke="#383838" stroke-width="0.15">CHF</text>
<ellipse cx="707.7" cy="327.3" rx="7.5" ry="1.7" fill="#8a0c0c"/>
<text x="709.80" y="413.40" font-family='"Liberation Sans", sans-serif' font-size="7.3" font-weight="normal" fill="#383838" text-anchor="middle" textLength="13.4" lengthAdjust="spacingAndGlyphs" stroke="#383838" stroke-width="0.15">CAD</text>
<ellipse cx="726.5" cy="328.0" rx="7.5" ry="1.7" fill="#8a0c0c"/>
<text x="729.50" y="413.40" font-family='"Liberation Sans", sans-serif' font-size="7.3" font-weight="normal" fill="#383838" text-anchor="middle" textLength="14.3" lengthAdjust="spacingAndGlyphs" stroke="#383838" stroke-width="0.15">AUD</text>
<text x="611.30" y="380.65" font-family='"Liberation Sans", sans-serif' font-size="9.4" font-weight="normal" fill="#000" text-anchor="middle" textLength="26.5" lengthAdjust="spacingAndGlyphs" stroke="#000" stroke-width="0.22">-0.57%</text>
<text x="630.75" y="358.36" font-family='"Liberation Sans", sans-serif' font-size="9.4" font-weight="normal" fill="#000" text-anchor="middle" textLength="26.5" lengthAdjust="spacingAndGlyphs" stroke="#000" stroke-width="0.22">-0.27%</text>
<text x="650.20" y="398.48" font-family='"Liberation Sans", sans-serif' font-size="9.4" font-weight="normal" fill="#000" text-anchor="middle" textLength="26.5" lengthAdjust="spacingAndGlyphs" stroke="#000" stroke-width="0.22">-0.81%</text>
<text x="669.65" y="366.53" font-family='"Liberation Sans", sans-serif' font-size="9.4" font-weight="normal" fill="#000" text-anchor="middle" textLength="26.5" lengthAdjust="spacingAndGlyphs" stroke="#000" stroke-width="0.22">-0.38%</text>
<text x="689.10" y="370.25" font-family='"Liberation Sans", sans-serif' font-size="9.4" font-weight="normal" fill="#000" text-anchor="middle" textLength="26.5" lengthAdjust="spacingAndGlyphs" stroke="#000" stroke-width="0.22">-0.43%</text>
<text x="708.55" y="319.40" font-family='"Liberation Sans", sans-serif' font-size="9.4" font-weight="normal" fill="#000" text-anchor="middle" textLength="23.6" lengthAdjust="spacingAndGlyphs" stroke="#000" stroke-width="0.22">0.00%</text>
<text x="725.43" y="339.79" font-family='"Liberation Sans", sans-serif' font-size="9.4" font-weight="normal" fill="#000" text-anchor="middle" textLength="26.5" lengthAdjust="spacingAndGlyphs" stroke="#000" stroke-width="0.22">-0.02%</text>
</g>
<rect x="568" y="295" width="179" height="135" rx="1.8" fill="none" stroke="#000" stroke-width="2"/>
</g>
</svg>
</body></html>
